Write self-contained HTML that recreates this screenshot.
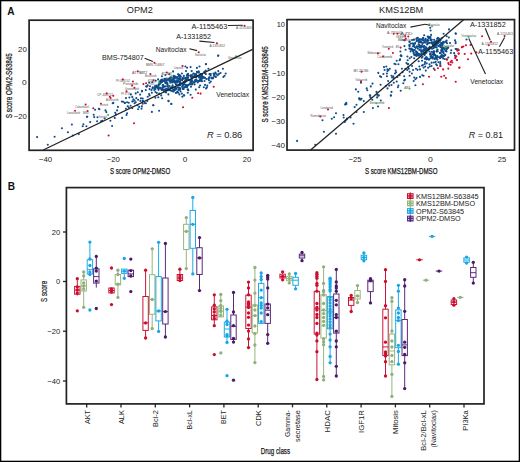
<!DOCTYPE html>
<html><head><meta charset="utf-8"><style>
html,body{margin:0;padding:0;background:#fff;}
svg{display:block;}
text{font-family:"Liberation Sans", sans-serif;}
</style></head><body>
<svg width="520" height="462" viewBox="0 0 520 462">
<rect x="0" y="0" width="520" height="462" fill="#fff"/>
<text x="7.20" y="15.00" font-size="10.6" textLength="7.30" lengthAdjust="spacingAndGlyphs" font-weight="bold" fill="#111">A</text>
<text x="139.80" y="13.40" font-size="9.3" text-anchor="middle" textLength="26.00" lengthAdjust="spacingAndGlyphs" fill="#222">OPM2</text>
<rect x="29.10" y="20.20" width="224.00" height="130.10" stroke="#222" stroke-width="1.7" fill="none"/>
<text x="45.50" y="161.80" font-size="7.6" text-anchor="middle" textLength="13.40" lengthAdjust="spacingAndGlyphs" fill="#222">−40</text>
<text x="113.30" y="161.80" font-size="7.6" text-anchor="middle" textLength="13.30" lengthAdjust="spacingAndGlyphs" fill="#222">−20</text>
<text x="185.00" y="161.80" font-size="7.6" text-anchor="middle" textLength="4.60" lengthAdjust="spacingAndGlyphs" fill="#222">0</text>
<text x="246.90" y="161.80" font-size="7.6" text-anchor="middle" textLength="8.40" lengthAdjust="spacingAndGlyphs" fill="#222">20</text>
<text x="26.80" y="51.80" font-size="7.6" text-anchor="end" textLength="8.80" lengthAdjust="spacingAndGlyphs" fill="#222">20</text>
<text x="26.80" y="84.90" font-size="7.6" text-anchor="end" textLength="4.70" lengthAdjust="spacingAndGlyphs" fill="#222">0</text>
<text x="26.80" y="118.50" font-size="7.6" text-anchor="end" textLength="13.10" lengthAdjust="spacingAndGlyphs" fill="#222">−20</text>
<text x="140.10" y="174.20" font-size="8.8" text-anchor="middle" textLength="60.20" lengthAdjust="spacingAndGlyphs" fill="#1a1a1a" stroke="#1a1a1a" stroke-width="0.25">S score OPM2-DMSO</text>
<text x="12.00" y="85.70" font-size="8.4" text-anchor="middle" textLength="65.00" lengthAdjust="spacingAndGlyphs" transform="rotate(-90 12.00 85.70)" fill="#1a1a1a" stroke="#1a1a1a" stroke-width="0.25">S score OPM2-S63845</text>
<text x="401.20" y="13.40" font-size="9.3" text-anchor="middle" textLength="44.30" lengthAdjust="spacingAndGlyphs" fill="#222">KMS12BM</text>
<rect x="287.00" y="19.60" width="227.50" height="130.50" stroke="#222" stroke-width="1.7" fill="none"/>
<text x="355.00" y="161.90" font-size="7.6" text-anchor="middle" textLength="13.00" lengthAdjust="spacingAndGlyphs" fill="#222">−25</text>
<text x="430.50" y="161.90" font-size="7.6" text-anchor="middle" textLength="4.80" lengthAdjust="spacingAndGlyphs" fill="#222">0</text>
<text x="502.00" y="161.90" font-size="7.6" text-anchor="middle" textLength="8.40" lengthAdjust="spacingAndGlyphs" fill="#222">25</text>
<text x="285.00" y="27.00" font-size="7.6" text-anchor="end" textLength="8.30" lengthAdjust="spacingAndGlyphs" fill="#222">10</text>
<text x="285.00" y="51.10" font-size="7.6" text-anchor="end" textLength="4.90" lengthAdjust="spacingAndGlyphs" fill="#222">0</text>
<text x="285.00" y="75.50" font-size="7.6" text-anchor="end" textLength="13.10" lengthAdjust="spacingAndGlyphs" fill="#222">−10</text>
<text x="285.00" y="99.80" font-size="7.6" text-anchor="end" textLength="13.40" lengthAdjust="spacingAndGlyphs" fill="#222">−20</text>
<text x="285.00" y="124.10" font-size="7.6" text-anchor="end" textLength="13.70" lengthAdjust="spacingAndGlyphs" fill="#222">−30</text>
<text x="285.00" y="148.00" font-size="7.6" text-anchor="end" textLength="13.70" lengthAdjust="spacingAndGlyphs" fill="#222">−40</text>
<text x="401.20" y="173.80" font-size="8.6" text-anchor="middle" textLength="72.50" lengthAdjust="spacingAndGlyphs" fill="#1a1a1a" stroke="#1a1a1a" stroke-width="0.25">S score KMS12BM-DMSO</text>
<text x="268.00" y="84.40" font-size="8.6" text-anchor="middle" textLength="76.30" lengthAdjust="spacingAndGlyphs" transform="rotate(-90 268.00 84.40)" fill="#1a1a1a" stroke="#1a1a1a" stroke-width="0.25">S score KMS12BM-S63845</text>
<text x="206.90" y="137.50" font-size="9.4" fill="#222" textLength="35.40" lengthAdjust="spacingAndGlyphs"><tspan font-style="italic">R</tspan> = 0.86</text>
<text x="468.80" y="137.90" font-size="9.4" fill="#222" textLength="34.10" lengthAdjust="spacingAndGlyphs"><tspan font-style="italic">R</tspan> = 0.81</text>
<text x="7.80" y="189.60" font-size="10.6" textLength="7.30" lengthAdjust="spacingAndGlyphs" font-weight="bold" fill="#111">B</text>
<rect x="66.40" y="187.60" width="417.60" height="216.30" stroke="#222" stroke-width="1.7" fill="none"/>
<line x1="63.00" y1="232.00" x2="66.40" y2="232.00" stroke="#222" stroke-width="1.3"/>
<text x="60.20" y="234.60" font-size="7.6" text-anchor="end" fill="#222">20</text>
<line x1="63.00" y1="281.50" x2="66.40" y2="281.50" stroke="#222" stroke-width="1.3"/>
<text x="60.20" y="284.10" font-size="7.6" text-anchor="end" fill="#222">0</text>
<line x1="63.00" y1="331.20" x2="66.40" y2="331.20" stroke="#222" stroke-width="1.3"/>
<text x="60.20" y="333.80" font-size="7.6" text-anchor="end" fill="#222">−20</text>
<line x1="63.00" y1="381.00" x2="66.40" y2="381.00" stroke="#222" stroke-width="1.3"/>
<text x="60.20" y="383.60" font-size="7.6" text-anchor="end" fill="#222">−40</text>
<text x="47.10" y="291.40" font-size="9.0" text-anchor="middle" textLength="21.00" lengthAdjust="spacingAndGlyphs" transform="rotate(-90 47.10 291.40)" fill="#1a1a1a" stroke="#1a1a1a" stroke-width="0.2">S score</text>
<line x1="86.70" y1="403.90" x2="86.70" y2="407.40" stroke="#222" stroke-width="1.3"/>
<text x="89.60" y="410.20" font-size="8.1" text-anchor="end" textLength="13.90" lengthAdjust="spacingAndGlyphs" transform="rotate(-90 89.60 410.20)" fill="#1a1a1a">AKT</text>
<line x1="121.00" y1="403.90" x2="121.00" y2="407.40" stroke="#222" stroke-width="1.3"/>
<text x="123.70" y="410.20" font-size="8.1" text-anchor="end" textLength="13.90" lengthAdjust="spacingAndGlyphs" transform="rotate(-90 123.70 410.20)" fill="#1a1a1a">ALK</text>
<line x1="155.30" y1="403.90" x2="155.30" y2="407.40" stroke="#222" stroke-width="1.3"/>
<text x="157.80" y="410.20" font-size="8.1" text-anchor="end" textLength="16.75" lengthAdjust="spacingAndGlyphs" transform="rotate(-90 157.80 410.20)" fill="#1a1a1a">Bcl-2</text>
<line x1="189.60" y1="403.90" x2="189.60" y2="407.40" stroke="#222" stroke-width="1.3"/>
<text x="192.10" y="410.20" font-size="8.1" text-anchor="end" textLength="19.25" lengthAdjust="spacingAndGlyphs" transform="rotate(-90 192.10 410.20)" fill="#1a1a1a">Bcl-xL</text>
<line x1="223.90" y1="403.90" x2="223.90" y2="407.40" stroke="#222" stroke-width="1.3"/>
<text x="226.40" y="410.20" font-size="8.1" text-anchor="end" textLength="13.75" lengthAdjust="spacingAndGlyphs" transform="rotate(-90 226.40 410.20)" fill="#1a1a1a">BET</text>
<line x1="258.20" y1="403.90" x2="258.20" y2="407.40" stroke="#222" stroke-width="1.3"/>
<text x="261.00" y="410.20" font-size="8.1" text-anchor="end" textLength="15.75" lengthAdjust="spacingAndGlyphs" transform="rotate(-90 261.00 410.20)" fill="#1a1a1a">CDK</text>
<line x1="292.50" y1="403.90" x2="292.50" y2="407.40" stroke="#222" stroke-width="1.3"/>
<text x="290.50" y="410.20" font-size="8.1" text-anchor="end" textLength="26.80" lengthAdjust="spacingAndGlyphs" transform="rotate(-90 290.50 410.20)" fill="#1a1a1a">Gamma-</text>
<text x="300.30" y="410.20" font-size="8.1" text-anchor="end" textLength="31.80" lengthAdjust="spacingAndGlyphs" transform="rotate(-90 300.30 410.20)" fill="#1a1a1a">secretase</text>
<line x1="326.80" y1="403.90" x2="326.80" y2="407.40" stroke="#222" stroke-width="1.3"/>
<text x="329.80" y="410.20" font-size="8.1" text-anchor="end" textLength="22.20" lengthAdjust="spacingAndGlyphs" transform="rotate(-90 329.80 410.20)" fill="#1a1a1a">HDAC</text>
<line x1="361.10" y1="403.90" x2="361.10" y2="407.40" stroke="#222" stroke-width="1.3"/>
<text x="363.60" y="410.20" font-size="8.1" text-anchor="end" textLength="22.80" lengthAdjust="spacingAndGlyphs" transform="rotate(-90 363.60 410.20)" fill="#1a1a1a">IGF1R</text>
<line x1="395.40" y1="403.90" x2="395.40" y2="407.40" stroke="#222" stroke-width="1.3"/>
<text x="398.00" y="410.20" font-size="8.1" text-anchor="end" textLength="23.70" lengthAdjust="spacingAndGlyphs" transform="rotate(-90 398.00 410.20)" fill="#1a1a1a">Mitosis</text>
<line x1="429.70" y1="403.90" x2="429.70" y2="407.40" stroke="#222" stroke-width="1.3"/>
<text x="425.80" y="410.20" font-size="8.1" text-anchor="end" textLength="40.50" lengthAdjust="spacingAndGlyphs" transform="rotate(-90 425.80 410.20)" fill="#1a1a1a">Bcl-2/Bcl-xL</text>
<text x="435.60" y="410.20" font-size="8.1" text-anchor="end" textLength="37.40" lengthAdjust="spacingAndGlyphs" transform="rotate(-90 435.60 410.20)" fill="#1a1a1a">(Navitoclax)</text>
<line x1="464.00" y1="403.90" x2="464.00" y2="407.40" stroke="#222" stroke-width="1.3"/>
<text x="467.60" y="410.20" font-size="8.1" text-anchor="end" textLength="20.50" lengthAdjust="spacingAndGlyphs" transform="rotate(-90 467.60 410.20)" fill="#1a1a1a">PI3Ka</text>
<text x="275.40" y="454.30" font-size="8.4" text-anchor="middle" textLength="29.20" lengthAdjust="spacingAndGlyphs" fill="#1a1a1a" stroke="#1a1a1a" stroke-width="0.25">Drug class</text>
<rect x="407.0" y="193.20" width="6.6" height="5.8" fill="#c8102e"/>
<line x1="410.30" y1="192.40" x2="410.30" y2="199.60" stroke="#c8102e" stroke-width="1.0"/>
<rect x="408.00" y="194.15" width="1.2" height="1.1" fill="#fff" opacity="0.85"/>
<rect x="408.00" y="196.55" width="1.2" height="1.1" fill="#fff" opacity="0.85"/>
<rect x="411.40" y="194.15" width="1.2" height="1.1" fill="#fff" opacity="0.85"/>
<rect x="411.40" y="196.55" width="1.2" height="1.1" fill="#fff" opacity="0.85"/>
<text x="416.00" y="198.60" font-size="7.1" textLength="62.60" lengthAdjust="spacingAndGlyphs" fill="#1a1a1a">KMS12BM-S63845</text>
<rect x="407.0" y="200.50" width="6.6" height="5.8" fill="#8fb87a"/>
<line x1="410.30" y1="199.70" x2="410.30" y2="206.90" stroke="#8fb87a" stroke-width="1.0"/>
<rect x="408.00" y="201.45" width="1.2" height="1.1" fill="#fff" opacity="0.85"/>
<rect x="408.00" y="203.85" width="1.2" height="1.1" fill="#fff" opacity="0.85"/>
<rect x="411.40" y="201.45" width="1.2" height="1.1" fill="#fff" opacity="0.85"/>
<rect x="411.40" y="203.85" width="1.2" height="1.1" fill="#fff" opacity="0.85"/>
<text x="416.00" y="205.90" font-size="7.1" textLength="59.10" lengthAdjust="spacingAndGlyphs" fill="#1a1a1a">KMS12BM-DMSO</text>
<rect x="407.0" y="208.10" width="6.6" height="5.8" fill="#1ca7e0"/>
<line x1="410.30" y1="207.30" x2="410.30" y2="214.50" stroke="#1ca7e0" stroke-width="1.0"/>
<rect x="408.00" y="209.05" width="1.2" height="1.1" fill="#fff" opacity="0.85"/>
<rect x="408.00" y="211.45" width="1.2" height="1.1" fill="#fff" opacity="0.85"/>
<rect x="411.40" y="209.05" width="1.2" height="1.1" fill="#fff" opacity="0.85"/>
<rect x="411.40" y="211.45" width="1.2" height="1.1" fill="#fff" opacity="0.85"/>
<text x="416.00" y="213.50" font-size="7.1" textLength="48.10" lengthAdjust="spacingAndGlyphs" fill="#1a1a1a">OPM2-S63845</text>
<rect x="407.0" y="215.70" width="6.6" height="5.8" fill="#5a2a82"/>
<line x1="410.30" y1="214.90" x2="410.30" y2="222.10" stroke="#5a2a82" stroke-width="1.0"/>
<rect x="408.00" y="216.65" width="1.2" height="1.1" fill="#fff" opacity="0.85"/>
<rect x="408.00" y="219.05" width="1.2" height="1.1" fill="#fff" opacity="0.85"/>
<rect x="411.40" y="216.65" width="1.2" height="1.1" fill="#fff" opacity="0.85"/>
<rect x="411.40" y="219.05" width="1.2" height="1.1" fill="#fff" opacity="0.85"/>
<text x="416.00" y="221.10" font-size="7.1" textLength="44.60" lengthAdjust="spacingAndGlyphs" fill="#1a1a1a">OPM2-DMSO</text>
<g>
<circle cx="196.87" cy="71.88" r="1.05" fill="#0f4c8a"/>
<circle cx="188.58" cy="79.51" r="1.05" fill="#0f4c8a"/>
<circle cx="180.57" cy="91.50" r="1.05" fill="#0f4c8a"/>
<circle cx="191.55" cy="80.31" r="1.05" fill="#0f4c8a"/>
<circle cx="211.81" cy="77.53" r="1.05" fill="#0f4c8a"/>
<circle cx="172.21" cy="91.22" r="1.05" fill="#0f4c8a"/>
<circle cx="163.01" cy="85.12" r="1.05" fill="#0f4c8a"/>
<circle cx="196.00" cy="79.68" r="1.05" fill="#0f4c8a"/>
<circle cx="198.99" cy="81.12" r="1.05" fill="#0f4c8a"/>
<circle cx="172.62" cy="85.22" r="1.05" fill="#0f4c8a"/>
<circle cx="182.63" cy="77.79" r="1.05" fill="#0f4c8a"/>
<circle cx="167.57" cy="84.94" r="1.05" fill="#0f4c8a"/>
<circle cx="187.81" cy="92.75" r="1.05" fill="#0f4c8a"/>
<circle cx="202.52" cy="77.49" r="1.05" fill="#0f4c8a"/>
<circle cx="220.57" cy="73.07" r="1.05" fill="#0f4c8a"/>
<circle cx="180.10" cy="89.69" r="1.05" fill="#0f4c8a"/>
<circle cx="160.94" cy="82.71" r="1.05" fill="#0f4c8a"/>
<circle cx="152.82" cy="87.37" r="1.05" fill="#0f4c8a"/>
<circle cx="205.05" cy="84.90" r="1.05" fill="#0f4c8a"/>
<circle cx="213.03" cy="78.16" r="1.05" fill="#0f4c8a"/>
<circle cx="200.06" cy="85.45" r="1.05" fill="#0f4c8a"/>
<circle cx="191.75" cy="81.86" r="1.05" fill="#0f4c8a"/>
<circle cx="184.14" cy="87.27" r="1.05" fill="#0f4c8a"/>
<circle cx="154.37" cy="88.24" r="1.05" fill="#0f4c8a"/>
<circle cx="209.18" cy="77.40" r="1.05" fill="#0f4c8a"/>
<circle cx="177.78" cy="87.38" r="1.05" fill="#0f4c8a"/>
<circle cx="154.24" cy="89.97" r="1.05" fill="#0f4c8a"/>
<circle cx="178.15" cy="92.66" r="1.05" fill="#0f4c8a"/>
<circle cx="170.05" cy="80.80" r="1.05" fill="#0f4c8a"/>
<circle cx="175.83" cy="92.99" r="1.05" fill="#0f4c8a"/>
<circle cx="218.96" cy="73.92" r="1.05" fill="#0f4c8a"/>
<circle cx="166.80" cy="82.61" r="1.05" fill="#0f4c8a"/>
<circle cx="192.42" cy="76.83" r="1.05" fill="#0f4c8a"/>
<circle cx="176.59" cy="84.72" r="1.05" fill="#0f4c8a"/>
<circle cx="187.12" cy="86.06" r="1.05" fill="#0f4c8a"/>
<circle cx="198.69" cy="71.40" r="1.05" fill="#0f4c8a"/>
<circle cx="178.25" cy="80.37" r="1.05" fill="#0f4c8a"/>
<circle cx="157.45" cy="86.49" r="1.05" fill="#0f4c8a"/>
<circle cx="151.84" cy="92.73" r="1.05" fill="#0f4c8a"/>
<circle cx="194.21" cy="73.86" r="1.05" fill="#0f4c8a"/>
<circle cx="168.16" cy="79.03" r="1.05" fill="#0f4c8a"/>
<circle cx="183.55" cy="82.58" r="1.05" fill="#0f4c8a"/>
<circle cx="174.67" cy="76.88" r="1.05" fill="#0f4c8a"/>
<circle cx="209.68" cy="74.20" r="1.05" fill="#0f4c8a"/>
<circle cx="188.03" cy="73.81" r="1.05" fill="#0f4c8a"/>
<circle cx="168.80" cy="79.53" r="1.05" fill="#0f4c8a"/>
<circle cx="162.03" cy="90.07" r="1.05" fill="#0f4c8a"/>
<circle cx="188.35" cy="90.26" r="1.05" fill="#0f4c8a"/>
<circle cx="173.74" cy="75.80" r="1.05" fill="#0f4c8a"/>
<circle cx="166.33" cy="83.46" r="1.05" fill="#0f4c8a"/>
<circle cx="168.66" cy="88.01" r="1.05" fill="#0f4c8a"/>
<circle cx="201.80" cy="78.93" r="1.05" fill="#0f4c8a"/>
<circle cx="196.18" cy="81.11" r="1.05" fill="#0f4c8a"/>
<circle cx="187.00" cy="87.19" r="1.05" fill="#0f4c8a"/>
<circle cx="159.15" cy="84.55" r="1.05" fill="#0f4c8a"/>
<circle cx="191.76" cy="81.08" r="1.05" fill="#0f4c8a"/>
<circle cx="163.75" cy="86.99" r="1.05" fill="#0f4c8a"/>
<circle cx="171.29" cy="87.22" r="1.05" fill="#0f4c8a"/>
<circle cx="174.67" cy="89.99" r="1.05" fill="#0f4c8a"/>
<circle cx="190.52" cy="75.23" r="1.05" fill="#0f4c8a"/>
<circle cx="162.16" cy="87.70" r="1.05" fill="#0f4c8a"/>
<circle cx="172.17" cy="82.42" r="1.05" fill="#0f4c8a"/>
<circle cx="176.26" cy="88.56" r="1.05" fill="#0f4c8a"/>
<circle cx="195.48" cy="76.01" r="1.05" fill="#0f4c8a"/>
<circle cx="166.79" cy="83.14" r="1.05" fill="#0f4c8a"/>
<circle cx="167.71" cy="79.96" r="1.05" fill="#0f4c8a"/>
<circle cx="161.42" cy="89.29" r="1.05" fill="#0f4c8a"/>
<circle cx="172.34" cy="80.71" r="1.05" fill="#0f4c8a"/>
<circle cx="175.61" cy="89.44" r="1.05" fill="#0f4c8a"/>
<circle cx="179.58" cy="82.10" r="1.05" fill="#0f4c8a"/>
<circle cx="155.19" cy="87.18" r="1.05" fill="#0f4c8a"/>
<circle cx="163.44" cy="81.00" r="1.05" fill="#0f4c8a"/>
<circle cx="190.53" cy="82.57" r="1.05" fill="#0f4c8a"/>
<circle cx="170.97" cy="81.85" r="1.05" fill="#0f4c8a"/>
<circle cx="182.22" cy="86.90" r="1.05" fill="#0f4c8a"/>
<circle cx="160.20" cy="82.65" r="1.05" fill="#0f4c8a"/>
<circle cx="192.84" cy="81.65" r="1.05" fill="#0f4c8a"/>
<circle cx="182.52" cy="86.44" r="1.05" fill="#0f4c8a"/>
<circle cx="199.71" cy="80.42" r="1.05" fill="#0f4c8a"/>
<circle cx="185.01" cy="81.61" r="1.05" fill="#0f4c8a"/>
<circle cx="180.10" cy="85.16" r="1.05" fill="#0f4c8a"/>
<circle cx="177.16" cy="82.13" r="1.05" fill="#0f4c8a"/>
<circle cx="178.42" cy="89.89" r="1.05" fill="#0f4c8a"/>
<circle cx="201.17" cy="76.93" r="1.05" fill="#0f4c8a"/>
<circle cx="196.16" cy="74.61" r="1.05" fill="#0f4c8a"/>
<circle cx="160.96" cy="80.40" r="1.05" fill="#0f4c8a"/>
<circle cx="158.58" cy="84.72" r="1.05" fill="#0f4c8a"/>
<circle cx="162.57" cy="85.61" r="1.05" fill="#0f4c8a"/>
<circle cx="187.35" cy="74.72" r="1.05" fill="#0f4c8a"/>
<circle cx="165.76" cy="90.10" r="1.05" fill="#0f4c8a"/>
<circle cx="174.51" cy="81.26" r="1.05" fill="#0f4c8a"/>
<circle cx="162.91" cy="80.20" r="1.05" fill="#0f4c8a"/>
<circle cx="180.26" cy="78.44" r="1.05" fill="#0f4c8a"/>
<circle cx="182.15" cy="80.37" r="1.05" fill="#0f4c8a"/>
<circle cx="185.57" cy="81.73" r="1.05" fill="#0f4c8a"/>
<circle cx="156.94" cy="86.80" r="1.05" fill="#0f4c8a"/>
<circle cx="175.69" cy="89.32" r="1.05" fill="#0f4c8a"/>
<circle cx="195.13" cy="76.91" r="1.05" fill="#0f4c8a"/>
<circle cx="162.32" cy="89.46" r="1.05" fill="#0f4c8a"/>
<circle cx="182.96" cy="85.31" r="1.05" fill="#0f4c8a"/>
<circle cx="188.72" cy="80.08" r="1.05" fill="#0f4c8a"/>
<circle cx="158.55" cy="89.83" r="1.05" fill="#0f4c8a"/>
<circle cx="186.09" cy="87.23" r="1.05" fill="#0f4c8a"/>
<circle cx="159.10" cy="88.27" r="1.05" fill="#0f4c8a"/>
<circle cx="158.26" cy="88.39" r="1.05" fill="#0f4c8a"/>
<circle cx="177.23" cy="78.44" r="1.05" fill="#0f4c8a"/>
<circle cx="180.82" cy="76.53" r="1.05" fill="#0f4c8a"/>
<circle cx="170.29" cy="77.80" r="1.05" fill="#0f4c8a"/>
<circle cx="192.22" cy="77.51" r="1.05" fill="#0f4c8a"/>
<circle cx="179.50" cy="75.38" r="1.05" fill="#0f4c8a"/>
<circle cx="190.92" cy="82.47" r="1.05" fill="#0f4c8a"/>
<circle cx="164.28" cy="81.02" r="1.05" fill="#0f4c8a"/>
<circle cx="200.80" cy="74.02" r="1.05" fill="#0f4c8a"/>
<circle cx="195.13" cy="80.21" r="1.05" fill="#0f4c8a"/>
<circle cx="179.26" cy="87.86" r="1.05" fill="#0f4c8a"/>
<circle cx="174.26" cy="81.63" r="1.05" fill="#0f4c8a"/>
<circle cx="171.79" cy="87.81" r="1.05" fill="#0f4c8a"/>
<circle cx="189.63" cy="84.08" r="1.05" fill="#0f4c8a"/>
<circle cx="174.83" cy="78.60" r="1.05" fill="#0f4c8a"/>
<circle cx="158.47" cy="86.08" r="1.05" fill="#0f4c8a"/>
<circle cx="159.14" cy="87.98" r="1.05" fill="#0f4c8a"/>
<circle cx="169.36" cy="80.73" r="1.05" fill="#0f4c8a"/>
<circle cx="162.72" cy="80.47" r="1.05" fill="#0f4c8a"/>
<circle cx="167.90" cy="90.27" r="1.05" fill="#0f4c8a"/>
<circle cx="166.98" cy="90.35" r="1.05" fill="#0f4c8a"/>
<circle cx="170.17" cy="78.78" r="1.05" fill="#0f4c8a"/>
<circle cx="178.26" cy="81.55" r="1.05" fill="#0f4c8a"/>
<circle cx="164.85" cy="81.59" r="1.05" fill="#0f4c8a"/>
<circle cx="183.69" cy="82.05" r="1.05" fill="#0f4c8a"/>
<circle cx="191.78" cy="84.49" r="1.05" fill="#0f4c8a"/>
<circle cx="174.09" cy="78.20" r="1.05" fill="#0f4c8a"/>
<circle cx="190.48" cy="84.22" r="1.05" fill="#0f4c8a"/>
<circle cx="157.15" cy="87.87" r="1.05" fill="#0f4c8a"/>
<circle cx="161.83" cy="81.95" r="1.05" fill="#0f4c8a"/>
<circle cx="179.71" cy="87.86" r="1.05" fill="#0f4c8a"/>
<circle cx="183.62" cy="88.96" r="1.05" fill="#0f4c8a"/>
<circle cx="188.46" cy="85.17" r="1.05" fill="#0f4c8a"/>
<circle cx="160.14" cy="87.88" r="1.05" fill="#0f4c8a"/>
<circle cx="182.37" cy="83.93" r="1.05" fill="#0f4c8a"/>
<circle cx="185.69" cy="84.93" r="1.05" fill="#0f4c8a"/>
<circle cx="179.65" cy="82.17" r="1.05" fill="#0f4c8a"/>
<circle cx="191.10" cy="76.79" r="1.05" fill="#0f4c8a"/>
<circle cx="190.74" cy="75.90" r="1.05" fill="#0f4c8a"/>
<circle cx="179.20" cy="79.27" r="1.05" fill="#0f4c8a"/>
<circle cx="178.47" cy="84.99" r="1.05" fill="#0f4c8a"/>
<circle cx="192.58" cy="83.72" r="1.05" fill="#0f4c8a"/>
<circle cx="191.42" cy="77.78" r="1.05" fill="#0f4c8a"/>
<circle cx="187.93" cy="85.15" r="1.05" fill="#0f4c8a"/>
<circle cx="188.11" cy="77.53" r="1.05" fill="#0f4c8a"/>
<circle cx="180.31" cy="80.83" r="1.05" fill="#0f4c8a"/>
<circle cx="198.79" cy="75.79" r="1.05" fill="#0f4c8a"/>
<circle cx="177.02" cy="77.10" r="1.05" fill="#0f4c8a"/>
<circle cx="165.28" cy="89.97" r="1.05" fill="#0f4c8a"/>
<circle cx="165.32" cy="83.05" r="1.05" fill="#0f4c8a"/>
<circle cx="161.95" cy="81.96" r="1.05" fill="#0f4c8a"/>
<circle cx="201.68" cy="74.52" r="1.05" fill="#0f4c8a"/>
<circle cx="195.19" cy="81.67" r="1.05" fill="#0f4c8a"/>
<circle cx="166.34" cy="89.06" r="1.05" fill="#0f4c8a"/>
<circle cx="177.09" cy="77.74" r="1.05" fill="#0f4c8a"/>
<circle cx="170.49" cy="87.96" r="1.05" fill="#0f4c8a"/>
<circle cx="155.09" cy="86.26" r="1.05" fill="#0f4c8a"/>
<circle cx="196.12" cy="74.28" r="1.05" fill="#0f4c8a"/>
<circle cx="199.18" cy="77.51" r="1.05" fill="#0f4c8a"/>
<circle cx="173.24" cy="79.47" r="1.05" fill="#0f4c8a"/>
<circle cx="172.67" cy="80.13" r="1.05" fill="#0f4c8a"/>
<circle cx="159.98" cy="87.86" r="1.05" fill="#0f4c8a"/>
<circle cx="169.00" cy="89.78" r="1.05" fill="#0f4c8a"/>
<circle cx="180.04" cy="75.61" r="1.05" fill="#0f4c8a"/>
<circle cx="173.29" cy="90.17" r="1.05" fill="#0f4c8a"/>
<circle cx="190.89" cy="80.57" r="1.05" fill="#0f4c8a"/>
<circle cx="191.88" cy="84.25" r="1.05" fill="#0f4c8a"/>
<circle cx="200.41" cy="74.42" r="1.05" fill="#0f4c8a"/>
<circle cx="178.14" cy="78.53" r="1.05" fill="#0f4c8a"/>
<circle cx="169.59" cy="86.04" r="1.05" fill="#0f4c8a"/>
<circle cx="202.84" cy="76.94" r="1.05" fill="#0f4c8a"/>
<circle cx="187.14" cy="77.72" r="1.05" fill="#0f4c8a"/>
<circle cx="182.31" cy="79.49" r="1.05" fill="#0f4c8a"/>
<circle cx="165.19" cy="89.21" r="1.05" fill="#0f4c8a"/>
<circle cx="179.36" cy="76.18" r="1.05" fill="#0f4c8a"/>
<circle cx="182.91" cy="88.86" r="1.05" fill="#0f4c8a"/>
<circle cx="191.73" cy="79.84" r="1.05" fill="#0f4c8a"/>
<circle cx="175.28" cy="81.96" r="1.05" fill="#0f4c8a"/>
<circle cx="173.47" cy="78.43" r="1.05" fill="#0f4c8a"/>
<circle cx="179.67" cy="83.96" r="1.05" fill="#0f4c8a"/>
<circle cx="197.28" cy="76.10" r="1.05" fill="#0f4c8a"/>
<circle cx="174.59" cy="80.47" r="1.05" fill="#0f4c8a"/>
<circle cx="197.77" cy="72.41" r="1.05" fill="#0f4c8a"/>
<circle cx="156.58" cy="85.48" r="1.05" fill="#0f4c8a"/>
<circle cx="198.89" cy="80.99" r="1.05" fill="#0f4c8a"/>
<circle cx="174.18" cy="89.61" r="1.05" fill="#0f4c8a"/>
<circle cx="202.64" cy="76.72" r="1.05" fill="#0f4c8a"/>
<circle cx="180.60" cy="84.96" r="1.05" fill="#0f4c8a"/>
<circle cx="186.72" cy="86.53" r="1.05" fill="#0f4c8a"/>
<circle cx="177.41" cy="82.48" r="1.05" fill="#0f4c8a"/>
<circle cx="156.94" cy="86.86" r="1.05" fill="#0f4c8a"/>
<circle cx="166.40" cy="89.48" r="1.05" fill="#0f4c8a"/>
<circle cx="186.63" cy="77.77" r="1.05" fill="#0f4c8a"/>
<circle cx="186.18" cy="85.27" r="1.05" fill="#0f4c8a"/>
<circle cx="180.70" cy="83.07" r="1.05" fill="#0f4c8a"/>
<circle cx="174.02" cy="76.25" r="1.05" fill="#0f4c8a"/>
<circle cx="169.77" cy="80.75" r="1.05" fill="#0f4c8a"/>
<circle cx="198.30" cy="81.03" r="1.05" fill="#0f4c8a"/>
<circle cx="179.42" cy="84.81" r="1.05" fill="#0f4c8a"/>
<circle cx="175.58" cy="76.89" r="1.05" fill="#0f4c8a"/>
<circle cx="171.56" cy="79.99" r="1.05" fill="#0f4c8a"/>
<circle cx="188.45" cy="75.76" r="1.05" fill="#0f4c8a"/>
<circle cx="179.74" cy="75.90" r="1.05" fill="#0f4c8a"/>
<circle cx="202.52" cy="77.92" r="1.05" fill="#0f4c8a"/>
<circle cx="195.18" cy="76.39" r="1.05" fill="#0f4c8a"/>
<circle cx="165.85" cy="86.45" r="1.05" fill="#0f4c8a"/>
<circle cx="169.45" cy="90.09" r="1.05" fill="#0f4c8a"/>
<circle cx="179.29" cy="75.56" r="1.05" fill="#0f4c8a"/>
<circle cx="165.94" cy="79.92" r="1.05" fill="#0f4c8a"/>
<circle cx="162.17" cy="79.48" r="1.05" fill="#0f4c8a"/>
<circle cx="165.43" cy="90.51" r="1.05" fill="#0f4c8a"/>
<circle cx="200.65" cy="78.26" r="1.05" fill="#0f4c8a"/>
<circle cx="164.09" cy="89.78" r="1.05" fill="#0f4c8a"/>
<circle cx="187.56" cy="79.19" r="1.05" fill="#0f4c8a"/>
<circle cx="173.32" cy="78.30" r="1.05" fill="#0f4c8a"/>
<circle cx="168.71" cy="78.68" r="1.05" fill="#0f4c8a"/>
<circle cx="201.82" cy="74.35" r="1.05" fill="#0f4c8a"/>
<circle cx="202.25" cy="75.94" r="1.05" fill="#0f4c8a"/>
<circle cx="172.47" cy="87.61" r="1.05" fill="#0f4c8a"/>
<circle cx="195.28" cy="80.22" r="1.05" fill="#0f4c8a"/>
<circle cx="173.26" cy="89.47" r="1.05" fill="#0f4c8a"/>
<circle cx="164.46" cy="78.92" r="1.05" fill="#0f4c8a"/>
<circle cx="198.95" cy="72.58" r="1.05" fill="#0f4c8a"/>
<circle cx="175.13" cy="87.42" r="1.05" fill="#0f4c8a"/>
<circle cx="200.08" cy="76.88" r="1.05" fill="#0f4c8a"/>
<circle cx="171.61" cy="77.17" r="1.05" fill="#0f4c8a"/>
<circle cx="167.85" cy="85.62" r="1.05" fill="#0f4c8a"/>
<circle cx="170.51" cy="77.24" r="1.05" fill="#0f4c8a"/>
<circle cx="155.18" cy="86.36" r="1.05" fill="#0f4c8a"/>
<circle cx="166.46" cy="81.03" r="1.05" fill="#0f4c8a"/>
<circle cx="173.94" cy="76.77" r="1.05" fill="#0f4c8a"/>
<circle cx="176.07" cy="81.38" r="1.05" fill="#0f4c8a"/>
<circle cx="200.48" cy="75.48" r="1.05" fill="#0f4c8a"/>
<circle cx="184.76" cy="78.23" r="1.05" fill="#0f4c8a"/>
<circle cx="170.66" cy="78.88" r="1.05" fill="#0f4c8a"/>
<circle cx="193.33" cy="73.50" r="1.05" fill="#0f4c8a"/>
<circle cx="164.67" cy="86.30" r="1.05" fill="#0f4c8a"/>
<circle cx="170.96" cy="90.62" r="1.05" fill="#0f4c8a"/>
<circle cx="159.72" cy="81.47" r="1.05" fill="#0f4c8a"/>
<circle cx="189.78" cy="80.49" r="1.05" fill="#0f4c8a"/>
<circle cx="166.48" cy="79.92" r="1.05" fill="#0f4c8a"/>
<circle cx="185.40" cy="84.81" r="1.05" fill="#0f4c8a"/>
<circle cx="187.56" cy="74.30" r="1.05" fill="#0f4c8a"/>
<circle cx="196.20" cy="77.58" r="1.05" fill="#0f4c8a"/>
<circle cx="182.78" cy="79.09" r="1.05" fill="#0f4c8a"/>
<circle cx="191.17" cy="75.78" r="1.05" fill="#0f4c8a"/>
<circle cx="162.51" cy="88.80" r="1.05" fill="#0f4c8a"/>
<circle cx="183.34" cy="78.20" r="1.05" fill="#0f4c8a"/>
<circle cx="179.86" cy="76.40" r="1.05" fill="#0f4c8a"/>
<circle cx="194.61" cy="84.41" r="1.05" fill="#0f4c8a"/>
<circle cx="178.26" cy="87.56" r="1.05" fill="#0f4c8a"/>
<circle cx="200.58" cy="79.07" r="1.05" fill="#0f4c8a"/>
<circle cx="197.44" cy="80.53" r="1.05" fill="#0f4c8a"/>
<circle cx="167.74" cy="86.78" r="1.05" fill="#0f4c8a"/>
<circle cx="201.34" cy="74.01" r="1.05" fill="#0f4c8a"/>
<circle cx="184.21" cy="83.78" r="1.05" fill="#0f4c8a"/>
<circle cx="165.66" cy="79.01" r="1.05" fill="#0f4c8a"/>
<circle cx="167.49" cy="83.39" r="1.05" fill="#0f4c8a"/>
<circle cx="186.93" cy="75.87" r="1.05" fill="#0f4c8a"/>
<circle cx="188.24" cy="75.52" r="1.05" fill="#0f4c8a"/>
<circle cx="193.97" cy="82.41" r="1.05" fill="#0f4c8a"/>
<circle cx="174.37" cy="82.45" r="1.05" fill="#0f4c8a"/>
<circle cx="163.02" cy="85.21" r="1.05" fill="#0f4c8a"/>
<circle cx="175.08" cy="77.38" r="1.05" fill="#0f4c8a"/>
<circle cx="170.07" cy="90.11" r="1.05" fill="#0f4c8a"/>
<circle cx="170.31" cy="82.76" r="1.05" fill="#0f4c8a"/>
<circle cx="172.50" cy="79.91" r="1.05" fill="#0f4c8a"/>
<circle cx="190.67" cy="75.87" r="1.05" fill="#0f4c8a"/>
<circle cx="155.29" cy="89.13" r="1.05" fill="#0f4c8a"/>
<circle cx="175.76" cy="87.59" r="1.05" fill="#0f4c8a"/>
<circle cx="174.90" cy="88.77" r="1.05" fill="#0f4c8a"/>
<circle cx="159.36" cy="83.82" r="1.05" fill="#0f4c8a"/>
<circle cx="173.17" cy="81.58" r="1.05" fill="#0f4c8a"/>
<circle cx="160.33" cy="81.32" r="1.05" fill="#0f4c8a"/>
<circle cx="200.38" cy="79.37" r="1.05" fill="#0f4c8a"/>
<circle cx="195.40" cy="75.05" r="1.05" fill="#0f4c8a"/>
<circle cx="193.51" cy="76.22" r="1.05" fill="#0f4c8a"/>
<circle cx="174.82" cy="88.08" r="1.05" fill="#0f4c8a"/>
<circle cx="195.63" cy="75.48" r="1.05" fill="#0f4c8a"/>
<circle cx="165.69" cy="79.60" r="1.05" fill="#0f4c8a"/>
<circle cx="180.38" cy="79.29" r="1.05" fill="#0f4c8a"/>
<circle cx="196.07" cy="74.24" r="1.05" fill="#0f4c8a"/>
<circle cx="184.38" cy="82.45" r="1.05" fill="#0f4c8a"/>
<circle cx="185.73" cy="77.82" r="1.05" fill="#0f4c8a"/>
<circle cx="175.58" cy="83.07" r="1.05" fill="#0f4c8a"/>
<circle cx="175.86" cy="84.52" r="1.05" fill="#0f4c8a"/>
<circle cx="176.89" cy="80.33" r="1.05" fill="#0f4c8a"/>
<circle cx="178.99" cy="76.47" r="1.05" fill="#0f4c8a"/>
<circle cx="161.29" cy="80.18" r="1.05" fill="#0f4c8a"/>
<circle cx="190.94" cy="86.78" r="1.05" fill="#0f4c8a"/>
<circle cx="179.69" cy="79.18" r="1.05" fill="#0f4c8a"/>
<circle cx="201.59" cy="74.59" r="1.05" fill="#0f4c8a"/>
<circle cx="164.49" cy="90.65" r="1.05" fill="#0f4c8a"/>
<circle cx="199.89" cy="75.14" r="1.05" fill="#0f4c8a"/>
<circle cx="192.05" cy="75.02" r="1.05" fill="#0f4c8a"/>
<circle cx="198.93" cy="77.22" r="1.05" fill="#0f4c8a"/>
<circle cx="194.97" cy="74.73" r="1.05" fill="#0f4c8a"/>
<circle cx="179.61" cy="89.48" r="1.05" fill="#0f4c8a"/>
<circle cx="179.79" cy="78.06" r="1.05" fill="#0f4c8a"/>
<circle cx="162.90" cy="89.79" r="1.05" fill="#0f4c8a"/>
<circle cx="163.27" cy="86.91" r="1.05" fill="#0f4c8a"/>
<circle cx="160.64" cy="82.08" r="1.05" fill="#0f4c8a"/>
<circle cx="186.18" cy="78.84" r="1.05" fill="#0f4c8a"/>
<circle cx="197.77" cy="82.55" r="1.05" fill="#0f4c8a"/>
<circle cx="183.42" cy="88.77" r="1.05" fill="#0f4c8a"/>
<circle cx="185.86" cy="79.49" r="1.05" fill="#0f4c8a"/>
<circle cx="194.09" cy="77.03" r="1.05" fill="#0f4c8a"/>
<circle cx="172.65" cy="86.53" r="1.05" fill="#0f4c8a"/>
<circle cx="195.17" cy="76.82" r="1.05" fill="#0f4c8a"/>
<circle cx="183.71" cy="84.61" r="1.05" fill="#0f4c8a"/>
<circle cx="185.19" cy="80.21" r="1.05" fill="#0f4c8a"/>
<circle cx="180.12" cy="89.02" r="1.05" fill="#0f4c8a"/>
<circle cx="165.99" cy="83.09" r="1.05" fill="#0f4c8a"/>
<circle cx="183.87" cy="75.88" r="1.05" fill="#0f4c8a"/>
<circle cx="185.57" cy="81.02" r="1.05" fill="#0f4c8a"/>
<circle cx="161.60" cy="89.80" r="1.05" fill="#0f4c8a"/>
<circle cx="159.69" cy="84.13" r="1.05" fill="#0f4c8a"/>
<circle cx="174.70" cy="77.02" r="1.05" fill="#0f4c8a"/>
<circle cx="182.55" cy="78.66" r="1.05" fill="#0f4c8a"/>
<circle cx="186.63" cy="80.43" r="1.05" fill="#0f4c8a"/>
<circle cx="167.18" cy="89.17" r="1.05" fill="#0f4c8a"/>
<circle cx="174.89" cy="76.52" r="1.05" fill="#0f4c8a"/>
<circle cx="157.86" cy="86.80" r="1.05" fill="#0f4c8a"/>
<circle cx="201.11" cy="74.70" r="1.05" fill="#0f4c8a"/>
<circle cx="203.79" cy="77.49" r="1.05" fill="#0f4c8a"/>
<circle cx="209.63" cy="77.88" r="1.05" fill="#0f4c8a"/>
<circle cx="215.45" cy="72.51" r="1.05" fill="#0f4c8a"/>
<circle cx="205.88" cy="73.95" r="1.05" fill="#0f4c8a"/>
<circle cx="200.92" cy="80.73" r="1.05" fill="#0f4c8a"/>
<circle cx="200.12" cy="80.21" r="1.05" fill="#0f4c8a"/>
<circle cx="214.16" cy="75.85" r="1.05" fill="#0f4c8a"/>
<circle cx="214.09" cy="75.70" r="1.05" fill="#0f4c8a"/>
<circle cx="204.29" cy="71.71" r="1.05" fill="#0f4c8a"/>
<circle cx="206.37" cy="79.12" r="1.05" fill="#0f4c8a"/>
<circle cx="213.52" cy="73.56" r="1.05" fill="#0f4c8a"/>
<circle cx="210.52" cy="75.51" r="1.05" fill="#0f4c8a"/>
<circle cx="214.98" cy="76.52" r="1.05" fill="#0f4c8a"/>
<circle cx="205.04" cy="77.88" r="1.05" fill="#0f4c8a"/>
<circle cx="204.95" cy="73.22" r="1.05" fill="#0f4c8a"/>
<circle cx="214.18" cy="74.26" r="1.05" fill="#0f4c8a"/>
<circle cx="216.72" cy="74.28" r="1.05" fill="#0f4c8a"/>
<circle cx="204.54" cy="80.94" r="1.05" fill="#0f4c8a"/>
<circle cx="211.98" cy="78.47" r="1.05" fill="#0f4c8a"/>
<circle cx="208.92" cy="80.16" r="1.05" fill="#0f4c8a"/>
<circle cx="208.31" cy="78.83" r="1.05" fill="#0f4c8a"/>
<circle cx="210.84" cy="74.04" r="1.05" fill="#0f4c8a"/>
<circle cx="204.03" cy="77.66" r="1.05" fill="#0f4c8a"/>
<circle cx="201.48" cy="80.97" r="1.05" fill="#0f4c8a"/>
<circle cx="202.03" cy="81.18" r="1.05" fill="#0f4c8a"/>
<circle cx="37.10" cy="137.10" r="1.05" fill="#0f4c8a"/>
<circle cx="47.80" cy="144.80" r="1.05" fill="#0f4c8a"/>
<circle cx="54.60" cy="136.70" r="1.05" fill="#0f4c8a"/>
<circle cx="61.90" cy="128.30" r="1.05" fill="#0f4c8a"/>
<circle cx="67.90" cy="132.30" r="1.05" fill="#0f4c8a"/>
<circle cx="71.90" cy="124.50" r="1.05" fill="#0f4c8a"/>
<circle cx="72.80" cy="135.50" r="1.05" fill="#0f4c8a"/>
<circle cx="78.80" cy="134.10" r="1.05" fill="#0f4c8a"/>
<circle cx="82.70" cy="126.30" r="1.05" fill="#0f4c8a"/>
<circle cx="83.40" cy="124.20" r="1.05" fill="#0f4c8a"/>
<circle cx="86.40" cy="126.30" r="1.05" fill="#0f4c8a"/>
<circle cx="87.00" cy="116.70" r="1.05" fill="#0f4c8a"/>
<circle cx="90.20" cy="122.10" r="1.05" fill="#0f4c8a"/>
<circle cx="87.30" cy="116.70" r="1.05" fill="#0f4c8a"/>
<circle cx="93.70" cy="114.80" r="1.05" fill="#0f4c8a"/>
<circle cx="94.20" cy="117.10" r="1.05" fill="#0f4c8a"/>
<circle cx="97.50" cy="117.30" r="1.05" fill="#0f4c8a"/>
<circle cx="97.10" cy="121.30" r="1.05" fill="#0f4c8a"/>
<circle cx="101.10" cy="121.30" r="1.05" fill="#0f4c8a"/>
<circle cx="102.30" cy="120.80" r="1.05" fill="#0f4c8a"/>
<circle cx="104.60" cy="118.50" r="1.05" fill="#0f4c8a"/>
<circle cx="105.50" cy="110.40" r="1.05" fill="#0f4c8a"/>
<circle cx="106.30" cy="112.10" r="1.05" fill="#0f4c8a"/>
<circle cx="99.40" cy="109.20" r="1.05" fill="#0f4c8a"/>
<circle cx="98.80" cy="108.70" r="1.05" fill="#0f4c8a"/>
<circle cx="95.10" cy="109.80" r="1.05" fill="#0f4c8a"/>
<circle cx="110.40" cy="120.80" r="1.05" fill="#0f4c8a"/>
<circle cx="112.10" cy="126.00" r="1.05" fill="#0f4c8a"/>
<circle cx="114.80" cy="117.90" r="1.05" fill="#0f4c8a"/>
<circle cx="115.20" cy="112.70" r="1.05" fill="#0f4c8a"/>
<circle cx="115.90" cy="114.40" r="1.05" fill="#0f4c8a"/>
<circle cx="117.10" cy="110.40" r="1.05" fill="#0f4c8a"/>
<circle cx="117.90" cy="106.90" r="1.05" fill="#0f4c8a"/>
<circle cx="113.30" cy="102.90" r="1.05" fill="#0f4c8a"/>
<circle cx="122.10" cy="117.90" r="1.05" fill="#0f4c8a"/>
<circle cx="126.50" cy="115.00" r="1.05" fill="#0f4c8a"/>
<circle cx="127.10" cy="113.30" r="1.05" fill="#0f4c8a"/>
<circle cx="125.90" cy="108.70" r="1.05" fill="#0f4c8a"/>
<circle cx="127.70" cy="106.30" r="1.05" fill="#0f4c8a"/>
<circle cx="128.80" cy="107.50" r="1.05" fill="#0f4c8a"/>
<circle cx="130.60" cy="105.80" r="1.05" fill="#0f4c8a"/>
<circle cx="132.30" cy="108.10" r="1.05" fill="#0f4c8a"/>
<circle cx="123.10" cy="101.70" r="1.05" fill="#0f4c8a"/>
<circle cx="124.80" cy="102.90" r="1.05" fill="#0f4c8a"/>
<circle cx="127.10" cy="102.30" r="1.05" fill="#0f4c8a"/>
<circle cx="132.90" cy="101.20" r="1.05" fill="#0f4c8a"/>
<circle cx="134.60" cy="100.60" r="1.05" fill="#0f4c8a"/>
<circle cx="138.10" cy="109.20" r="1.05" fill="#0f4c8a"/>
<circle cx="139.20" cy="106.90" r="1.05" fill="#0f4c8a"/>
<circle cx="141.50" cy="108.70" r="1.05" fill="#0f4c8a"/>
<circle cx="137.50" cy="105.20" r="1.05" fill="#0f4c8a"/>
<circle cx="142.70" cy="101.20" r="1.05" fill="#0f4c8a"/>
<circle cx="135.70" cy="102.30" r="1.05" fill="#0f4c8a"/>
<circle cx="145.90" cy="103.20" r="1.05" fill="#0f4c8a"/>
<circle cx="147.30" cy="100.90" r="1.05" fill="#0f4c8a"/>
<circle cx="153.10" cy="105.20" r="1.05" fill="#0f4c8a"/>
<circle cx="151.90" cy="111.90" r="1.05" fill="#0f4c8a"/>
<circle cx="159.10" cy="110.70" r="1.05" fill="#0f4c8a"/>
<circle cx="168.60" cy="101.20" r="1.05" fill="#0f4c8a"/>
<circle cx="171.30" cy="104.00" r="1.05" fill="#0f4c8a"/>
<circle cx="130.90" cy="94.40" r="1.05" fill="#0f4c8a"/>
<circle cx="135.70" cy="93.40" r="1.05" fill="#0f4c8a"/>
<circle cx="137.80" cy="92.30" r="1.05" fill="#0f4c8a"/>
<circle cx="142.10" cy="90.90" r="1.05" fill="#0f4c8a"/>
<circle cx="140.10" cy="94.60" r="1.05" fill="#0f4c8a"/>
<circle cx="126.00" cy="98.10" r="1.05" fill="#0f4c8a"/>
<circle cx="129.40" cy="97.50" r="1.05" fill="#0f4c8a"/>
<circle cx="132.30" cy="96.90" r="1.05" fill="#0f4c8a"/>
<circle cx="133.40" cy="99.20" r="1.05" fill="#0f4c8a"/>
<circle cx="136.30" cy="98.10" r="1.05" fill="#0f4c8a"/>
<circle cx="138.10" cy="99.80" r="1.05" fill="#0f4c8a"/>
<circle cx="140.40" cy="100.90" r="1.05" fill="#0f4c8a"/>
<circle cx="142.70" cy="98.60" r="1.05" fill="#0f4c8a"/>
<circle cx="121.90" cy="101.50" r="1.05" fill="#0f4c8a"/>
<circle cx="124.80" cy="102.90" r="1.05" fill="#0f4c8a"/>
<circle cx="128.80" cy="102.70" r="1.05" fill="#0f4c8a"/>
<circle cx="132.30" cy="101.50" r="1.05" fill="#0f4c8a"/>
<circle cx="134.60" cy="103.30" r="1.05" fill="#0f4c8a"/>
<circle cx="112.70" cy="103.30" r="1.05" fill="#0f4c8a"/>
<circle cx="142.70" cy="103.80" r="1.05" fill="#0f4c8a"/>
<circle cx="173.10" cy="71.40" r="1.05" fill="#0f4c8a"/>
<circle cx="178.10" cy="74.20" r="1.05" fill="#0f4c8a"/>
<circle cx="161.90" cy="76.20" r="1.05" fill="#0f4c8a"/>
<circle cx="165.40" cy="75.00" r="1.05" fill="#0f4c8a"/>
<circle cx="169.20" cy="74.20" r="1.05" fill="#0f4c8a"/>
<circle cx="158.10" cy="79.40" r="1.05" fill="#0f4c8a"/>
<circle cx="155.80" cy="80.80" r="1.05" fill="#0f4c8a"/>
<circle cx="152.30" cy="82.30" r="1.05" fill="#0f4c8a"/>
<circle cx="149.20" cy="82.70" r="1.05" fill="#0f4c8a"/>
<circle cx="147.70" cy="85.40" r="1.05" fill="#0f4c8a"/>
<circle cx="146.20" cy="86.20" r="1.05" fill="#0f4c8a"/>
<circle cx="150.00" cy="86.20" r="1.05" fill="#0f4c8a"/>
<circle cx="218.30" cy="55.60" r="1.05" fill="#0f4c8a"/>
<circle cx="205.90" cy="64.20" r="1.05" fill="#0f4c8a"/>
<circle cx="185.40" cy="66.50" r="1.05" fill="#0f4c8a"/>
<circle cx="187.10" cy="67.70" r="1.05" fill="#0f4c8a"/>
<circle cx="190.60" cy="67.10" r="1.05" fill="#0f4c8a"/>
<circle cx="199.50" cy="66.50" r="1.05" fill="#0f4c8a"/>
<circle cx="196.90" cy="67.90" r="1.05" fill="#0f4c8a"/>
<circle cx="222.90" cy="68.80" r="1.05" fill="#0f4c8a"/>
<circle cx="208.40" cy="68.80" r="1.05" fill="#0f4c8a"/>
<circle cx="205.60" cy="70.60" r="1.05" fill="#0f4c8a"/>
<circle cx="218.30" cy="71.10" r="1.05" fill="#0f4c8a"/>
<circle cx="225.70" cy="73.50" r="1.05" fill="#0f4c8a"/>
<circle cx="224.60" cy="75.80" r="1.05" fill="#0f4c8a"/>
<circle cx="223.40" cy="76.90" r="1.05" fill="#0f4c8a"/>
<circle cx="215.40" cy="73.50" r="1.05" fill="#0f4c8a"/>
<circle cx="209.60" cy="74.00" r="1.05" fill="#0f4c8a"/>
<circle cx="186.00" cy="71.10" r="1.05" fill="#0f4c8a"/>
<circle cx="191.70" cy="71.10" r="1.05" fill="#0f4c8a"/>
<circle cx="181.90" cy="73.50" r="1.05" fill="#0f4c8a"/>
<circle cx="178.50" cy="74.60" r="1.05" fill="#0f4c8a"/>
<circle cx="207.30" cy="85.60" r="1.05" fill="#0f4c8a"/>
<circle cx="209.60" cy="82.70" r="1.05" fill="#0f4c8a"/>
<circle cx="210.80" cy="81.50" r="1.05" fill="#0f4c8a"/>
<circle cx="213.10" cy="78.10" r="1.05" fill="#0f4c8a"/>
<circle cx="215.90" cy="76.90" r="1.05" fill="#0f4c8a"/>
<circle cx="217.70" cy="75.20" r="1.05" fill="#0f4c8a"/>
<circle cx="199.20" cy="87.30" r="1.05" fill="#0f4c8a"/>
<circle cx="195.80" cy="89.60" r="1.05" fill="#0f4c8a"/>
<circle cx="187.70" cy="89.60" r="1.05" fill="#0f4c8a"/>
<circle cx="183.70" cy="95.40" r="1.05" fill="#0f4c8a"/>
<circle cx="181.90" cy="93.60" r="1.05" fill="#0f4c8a"/>
<circle cx="177.30" cy="91.90" r="1.05" fill="#0f4c8a"/>
<circle cx="190.60" cy="94.80" r="1.05" fill="#0f4c8a"/>
<circle cx="203.80" cy="87.30" r="1.05" fill="#0f4c8a"/>
<circle cx="206.10" cy="88.40" r="1.05" fill="#0f4c8a"/>
<circle cx="141.90" cy="91.50" r="1.05" fill="#0f4c8a"/>
<circle cx="146.70" cy="86.70" r="1.05" fill="#0f4c8a"/>
<circle cx="145.80" cy="90.10" r="1.05" fill="#0f4c8a"/>
<circle cx="149.60" cy="89.10" r="1.05" fill="#0f4c8a"/>
<circle cx="151.50" cy="90.10" r="1.05" fill="#0f4c8a"/>
<circle cx="152.50" cy="88.20" r="1.05" fill="#0f4c8a"/>
<circle cx="155.40" cy="92.00" r="1.05" fill="#0f4c8a"/>
<circle cx="156.80" cy="93.00" r="1.05" fill="#0f4c8a"/>
<circle cx="149.10" cy="94.00" r="1.05" fill="#0f4c8a"/>
<circle cx="149.60" cy="95.40" r="1.05" fill="#0f4c8a"/>
<circle cx="147.70" cy="96.80" r="1.05" fill="#0f4c8a"/>
<circle cx="159.20" cy="93.50" r="1.05" fill="#0f4c8a"/>
<circle cx="161.20" cy="95.40" r="1.05" fill="#0f4c8a"/>
<circle cx="162.10" cy="98.30" r="1.05" fill="#0f4c8a"/>
<circle cx="158.30" cy="97.30" r="1.05" fill="#0f4c8a"/>
<circle cx="155.40" cy="97.80" r="1.05" fill="#0f4c8a"/>
<circle cx="141.00" cy="98.30" r="1.05" fill="#0f4c8a"/>
<circle cx="142.90" cy="100.70" r="1.05" fill="#0f4c8a"/>
<circle cx="144.80" cy="103.10" r="1.05" fill="#0f4c8a"/>
<circle cx="141.90" cy="106.40" r="1.05" fill="#0f4c8a"/>
<circle cx="153.50" cy="105.20" r="1.05" fill="#0f4c8a"/>
<circle cx="168.40" cy="100.70" r="1.05" fill="#0f4c8a"/>
<circle cx="171.30" cy="103.80" r="1.05" fill="#0f4c8a"/>
<circle cx="168.40" cy="94.40" r="1.05" fill="#0f4c8a"/>
<circle cx="166.00" cy="92.50" r="1.05" fill="#0f4c8a"/>
<circle cx="164.00" cy="91.50" r="1.05" fill="#0f4c8a"/>
<circle cx="173.70" cy="91.50" r="1.05" fill="#0f4c8a"/>
<circle cx="176.50" cy="92.50" r="1.05" fill="#0f4c8a"/>
<circle cx="179.40" cy="94.40" r="1.05" fill="#0f4c8a"/>
<circle cx="182.30" cy="96.80" r="1.05" fill="#0f4c8a"/>
<circle cx="184.20" cy="95.40" r="1.05" fill="#0f4c8a"/>
<circle cx="188.10" cy="89.60" r="1.05" fill="#0f4c8a"/>
<circle cx="185.20" cy="86.70" r="1.05" fill="#0f4c8a"/>
<circle cx="180.40" cy="88.70" r="1.05" fill="#0f4c8a"/>
<circle cx="218.10" cy="55.80" r="1.05" fill="#0f4c8a"/>
<circle cx="206.00" cy="64.10" r="1.05" fill="#0f4c8a"/>
<circle cx="206.90" cy="87.40" r="1.05" fill="#0f4c8a"/>
</g>
<text x="236.00" y="29.30" font-size="3.9" textLength="15.50" lengthAdjust="spacingAndGlyphs" fill="#555">A-1155463</text>
<text x="209.40" y="46.90" font-size="3.9" textLength="15.60" lengthAdjust="spacingAndGlyphs" fill="#555">A-1331852</text>
<text x="195.00" y="55.70" font-size="3.9" textLength="11.00" lengthAdjust="spacingAndGlyphs" fill="#555">Navitoclax</text>
<text x="227.90" y="58.80" font-size="3.9" textLength="13.80" lengthAdjust="spacingAndGlyphs" fill="#555">Venetoclax</text>
<text x="146.00" y="66.40" font-size="3.9" textLength="18.60" lengthAdjust="spacingAndGlyphs" fill="#555">BMS-754807</text>
<text x="173.50" y="68.80" font-size="3.9" textLength="9.50" lengthAdjust="spacingAndGlyphs" fill="#555">Compound</text>
<text x="132.00" y="74.30" font-size="3.9" textLength="13.00" lengthAdjust="spacingAndGlyphs" fill="#555">AT7867</text>
<text x="145.00" y="77.30" font-size="3.9" textLength="11.50" lengthAdjust="spacingAndGlyphs" fill="#555">Bosutinib</text>
<text x="140.00" y="73.60" font-size="3.9" textLength="7.30" lengthAdjust="spacingAndGlyphs" fill="#555">LY-2</text>
<text x="116.00" y="82.30" font-size="3.9" textLength="14.00" lengthAdjust="spacingAndGlyphs" fill="#555">PF-04691502</text>
<text x="123.00" y="84.90" font-size="3.9" textLength="15.00" lengthAdjust="spacingAndGlyphs" fill="#555">Ponatinib</text>
<text x="125.00" y="89.90" font-size="3.9" textLength="14.00" lengthAdjust="spacingAndGlyphs" fill="#555">Ganetespib</text>
<text x="121.00" y="94.50" font-size="3.9" textLength="9.00" lengthAdjust="spacingAndGlyphs" fill="#555">PF-3758</text>
<text x="97.00" y="95.90" font-size="3.9" textLength="16.00" lengthAdjust="spacingAndGlyphs" fill="#555">CP-466722</text>
<text x="106.00" y="101.30" font-size="3.9" textLength="12.50" lengthAdjust="spacingAndGlyphs" fill="#555">Afuresertib</text>
<text x="75.00" y="108.30" font-size="3.9" textLength="14.00" lengthAdjust="spacingAndGlyphs" fill="#555">Cabazitaxel</text>
<text x="67.00" y="114.30" font-size="3.9" textLength="13.00" lengthAdjust="spacingAndGlyphs" fill="#555">Lonafarnib</text>
<text x="83.00" y="114.30" font-size="3.9" textLength="6.00" lengthAdjust="spacingAndGlyphs" fill="#555">BRD</text>
<text x="100.00" y="106.30" font-size="3.9" textLength="8.00" lengthAdjust="spacingAndGlyphs" fill="#555">Crizotinib</text>
<text x="99.00" y="118.30" font-size="3.9" textLength="8.00" lengthAdjust="spacingAndGlyphs" fill="#555">Fedratinib</text>
<text x="147.70" y="82.10" font-size="3.9" textLength="7.70" lengthAdjust="spacingAndGlyphs" fill="#555">AZD5363</text>
<text x="150.00" y="84.80" font-size="3.9" textLength="5.40" lengthAdjust="spacingAndGlyphs" fill="#555">GDC</text>
<text x="161.50" y="75.10" font-size="3.9" textLength="10.80" lengthAdjust="spacingAndGlyphs" fill="#555">AT13387</text>
<text x="165.40" y="79.80" font-size="3.9" textLength="6.90" lengthAdjust="spacingAndGlyphs" fill="#555">MK-2206</text>
<circle cx="244.60" cy="25.80" r="1.05" fill="#d0102c"/>
<circle cx="216.90" cy="43.30" r="1.05" fill="#d0102c"/>
<circle cx="198.70" cy="52.30" r="1.05" fill="#d0102c"/>
<circle cx="154.40" cy="62.70" r="1.05" fill="#d0102c"/>
<circle cx="182.50" cy="66.00" r="1.05" fill="#d0102c"/>
<circle cx="137.80" cy="71.20" r="1.05" fill="#d0102c"/>
<circle cx="150.40" cy="74.10" r="1.05" fill="#d0102c"/>
<circle cx="166.80" cy="72.50" r="1.05" fill="#d0102c"/>
<circle cx="122.80" cy="79.40" r="1.05" fill="#d0102c"/>
<circle cx="132.90" cy="81.50" r="1.05" fill="#d0102c"/>
<circle cx="153.50" cy="80.20" r="1.05" fill="#d0102c"/>
<circle cx="146.10" cy="83.30" r="1.05" fill="#d0102c"/>
<circle cx="143.40" cy="84.10" r="1.05" fill="#d0102c"/>
<circle cx="132.10" cy="85.60" r="1.05" fill="#d0102c"/>
<circle cx="134.40" cy="87.70" r="1.05" fill="#d0102c"/>
<circle cx="126.50" cy="91.40" r="1.05" fill="#d0102c"/>
<circle cx="106.70" cy="93.40" r="1.05" fill="#d0102c"/>
<circle cx="113.30" cy="95.80" r="1.05" fill="#d0102c"/>
<circle cx="109.80" cy="96.70" r="1.05" fill="#d0102c"/>
<circle cx="110.60" cy="98.00" r="1.05" fill="#d0102c"/>
<circle cx="100.90" cy="103.80" r="1.05" fill="#d0102c"/>
<circle cx="85.60" cy="104.60" r="1.05" fill="#d0102c"/>
<circle cx="93.30" cy="108.30" r="1.05" fill="#d0102c"/>
<circle cx="87.60" cy="111.00" r="1.05" fill="#d0102c"/>
<circle cx="75.10" cy="110.70" r="1.05" fill="#d0102c"/>
<circle cx="134.00" cy="123.30" r="1.05" fill="#d0102c"/>
<circle cx="108.60" cy="135.50" r="1.05" fill="#d0102c"/>
<circle cx="183.10" cy="107.30" r="1.05" fill="#d0102c"/>
<circle cx="213.70" cy="86.80" r="1.05" fill="#d0102c"/>
<circle cx="198.10" cy="93.30" r="1.05" fill="#d0102c"/>
<circle cx="200.60" cy="93.60" r="1.05" fill="#d0102c"/>
<circle cx="192.30" cy="97.70" r="1.05" fill="#d0102c"/>
<circle cx="236.00" cy="56.30" r="1.05" fill="#3cc43c"/>
<circle cx="171.40" cy="76.30" r="1.05" fill="#3cc43c"/>
<circle cx="158.80" cy="82.20" r="1.05" fill="#3cc43c"/>
<circle cx="108.10" cy="115.00" r="1.05" fill="#3cc43c"/>
<text x="191.50" y="29.00" font-size="7.9" textLength="35.80" lengthAdjust="spacingAndGlyphs" fill="#1a1a1a">A-1155463</text>
<text x="176.30" y="39.40" font-size="7.9" textLength="34.60" lengthAdjust="spacingAndGlyphs" fill="#1a1a1a">A-1331852</text>
<text x="155.80" y="51.50" font-size="7.9" textLength="30.70" lengthAdjust="spacingAndGlyphs" fill="#1a1a1a">Navitoclax</text>
<text x="101.90" y="60.20" font-size="7.9" textLength="41.90" lengthAdjust="spacingAndGlyphs" fill="#1a1a1a">BMS-754807</text>
<text x="216.30" y="97.00" font-size="7.9" textLength="32.70" lengthAdjust="spacingAndGlyphs" fill="#1a1a1a">Venetoclax</text>
<line x1="227.90" y1="25.50" x2="242.90" y2="25.20" stroke="#222" stroke-width="1.1"/>
<line x1="199.40" y1="41.10" x2="214.40" y2="42.50" stroke="#222" stroke-width="1.1"/>
<line x1="189.40" y1="48.70" x2="197.10" y2="50.60" stroke="#222" stroke-width="1.1"/>
<line x1="144.60" y1="58.30" x2="152.90" y2="61.50" stroke="#222" stroke-width="1.1"/>
<line x1="43.20" y1="150.00" x2="252.60" y2="49.40" stroke="#222" stroke-width="1.25"/>
<g>
<circle cx="421.93" cy="39.39" r="1.05" fill="#0f4c8a"/>
<circle cx="440.02" cy="58.09" r="1.05" fill="#0f4c8a"/>
<circle cx="440.24" cy="62.00" r="1.05" fill="#0f4c8a"/>
<circle cx="407.42" cy="56.44" r="1.05" fill="#0f4c8a"/>
<circle cx="422.90" cy="65.07" r="1.05" fill="#0f4c8a"/>
<circle cx="409.57" cy="41.82" r="1.05" fill="#0f4c8a"/>
<circle cx="436.98" cy="65.35" r="1.05" fill="#0f4c8a"/>
<circle cx="436.84" cy="44.92" r="1.05" fill="#0f4c8a"/>
<circle cx="443.38" cy="41.79" r="1.05" fill="#0f4c8a"/>
<circle cx="420.60" cy="50.10" r="1.05" fill="#0f4c8a"/>
<circle cx="418.69" cy="61.20" r="1.05" fill="#0f4c8a"/>
<circle cx="423.14" cy="46.19" r="1.05" fill="#0f4c8a"/>
<circle cx="454.13" cy="53.14" r="1.05" fill="#0f4c8a"/>
<circle cx="448.27" cy="57.49" r="1.05" fill="#0f4c8a"/>
<circle cx="405.61" cy="49.69" r="1.05" fill="#0f4c8a"/>
<circle cx="426.70" cy="63.37" r="1.05" fill="#0f4c8a"/>
<circle cx="422.03" cy="60.78" r="1.05" fill="#0f4c8a"/>
<circle cx="431.97" cy="42.23" r="1.05" fill="#0f4c8a"/>
<circle cx="448.84" cy="37.45" r="1.05" fill="#0f4c8a"/>
<circle cx="446.63" cy="40.47" r="1.05" fill="#0f4c8a"/>
<circle cx="429.56" cy="64.28" r="1.05" fill="#0f4c8a"/>
<circle cx="413.59" cy="52.79" r="1.05" fill="#0f4c8a"/>
<circle cx="422.05" cy="65.61" r="1.05" fill="#0f4c8a"/>
<circle cx="417.55" cy="69.87" r="1.05" fill="#0f4c8a"/>
<circle cx="418.75" cy="42.16" r="1.05" fill="#0f4c8a"/>
<circle cx="440.37" cy="52.94" r="1.05" fill="#0f4c8a"/>
<circle cx="409.72" cy="58.19" r="1.05" fill="#0f4c8a"/>
<circle cx="408.21" cy="63.94" r="1.05" fill="#0f4c8a"/>
<circle cx="440.25" cy="63.90" r="1.05" fill="#0f4c8a"/>
<circle cx="436.65" cy="47.51" r="1.05" fill="#0f4c8a"/>
<circle cx="424.87" cy="48.99" r="1.05" fill="#0f4c8a"/>
<circle cx="414.72" cy="44.00" r="1.05" fill="#0f4c8a"/>
<circle cx="450.86" cy="53.05" r="1.05" fill="#0f4c8a"/>
<circle cx="423.72" cy="67.59" r="1.05" fill="#0f4c8a"/>
<circle cx="416.15" cy="51.51" r="1.05" fill="#0f4c8a"/>
<circle cx="431.64" cy="62.67" r="1.05" fill="#0f4c8a"/>
<circle cx="443.16" cy="58.56" r="1.05" fill="#0f4c8a"/>
<circle cx="422.12" cy="46.41" r="1.05" fill="#0f4c8a"/>
<circle cx="412.08" cy="66.04" r="1.05" fill="#0f4c8a"/>
<circle cx="438.43" cy="62.20" r="1.05" fill="#0f4c8a"/>
<circle cx="412.82" cy="50.67" r="1.05" fill="#0f4c8a"/>
<circle cx="444.22" cy="56.01" r="1.05" fill="#0f4c8a"/>
<circle cx="410.55" cy="51.56" r="1.05" fill="#0f4c8a"/>
<circle cx="450.03" cy="43.04" r="1.05" fill="#0f4c8a"/>
<circle cx="413.96" cy="45.46" r="1.05" fill="#0f4c8a"/>
<circle cx="440.56" cy="66.06" r="1.05" fill="#0f4c8a"/>
<circle cx="412.04" cy="39.93" r="1.05" fill="#0f4c8a"/>
<circle cx="416.87" cy="46.41" r="1.05" fill="#0f4c8a"/>
<circle cx="431.15" cy="40.12" r="1.05" fill="#0f4c8a"/>
<circle cx="421.06" cy="41.19" r="1.05" fill="#0f4c8a"/>
<circle cx="409.29" cy="48.60" r="1.05" fill="#0f4c8a"/>
<circle cx="442.13" cy="50.53" r="1.05" fill="#0f4c8a"/>
<circle cx="414.20" cy="58.24" r="1.05" fill="#0f4c8a"/>
<circle cx="409.56" cy="41.84" r="1.05" fill="#0f4c8a"/>
<circle cx="424.19" cy="35.29" r="1.05" fill="#0f4c8a"/>
<circle cx="424.75" cy="64.06" r="1.05" fill="#0f4c8a"/>
<circle cx="440.06" cy="53.02" r="1.05" fill="#0f4c8a"/>
<circle cx="436.88" cy="51.60" r="1.05" fill="#0f4c8a"/>
<circle cx="411.37" cy="56.94" r="1.05" fill="#0f4c8a"/>
<circle cx="425.05" cy="62.16" r="1.05" fill="#0f4c8a"/>
<circle cx="451.22" cy="50.34" r="1.05" fill="#0f4c8a"/>
<circle cx="433.85" cy="62.47" r="1.05" fill="#0f4c8a"/>
<circle cx="425.90" cy="42.69" r="1.05" fill="#0f4c8a"/>
<circle cx="437.89" cy="57.18" r="1.05" fill="#0f4c8a"/>
<circle cx="439.96" cy="52.95" r="1.05" fill="#0f4c8a"/>
<circle cx="443.10" cy="52.47" r="1.05" fill="#0f4c8a"/>
<circle cx="434.66" cy="47.17" r="1.05" fill="#0f4c8a"/>
<circle cx="421.52" cy="51.26" r="1.05" fill="#0f4c8a"/>
<circle cx="412.91" cy="46.36" r="1.05" fill="#0f4c8a"/>
<circle cx="440.30" cy="53.26" r="1.05" fill="#0f4c8a"/>
<circle cx="434.18" cy="42.38" r="1.05" fill="#0f4c8a"/>
<circle cx="425.94" cy="47.20" r="1.05" fill="#0f4c8a"/>
<circle cx="433.86" cy="46.12" r="1.05" fill="#0f4c8a"/>
<circle cx="436.01" cy="58.36" r="1.05" fill="#0f4c8a"/>
<circle cx="416.32" cy="51.88" r="1.05" fill="#0f4c8a"/>
<circle cx="440.13" cy="45.63" r="1.05" fill="#0f4c8a"/>
<circle cx="428.59" cy="59.40" r="1.05" fill="#0f4c8a"/>
<circle cx="410.53" cy="49.27" r="1.05" fill="#0f4c8a"/>
<circle cx="415.43" cy="54.87" r="1.05" fill="#0f4c8a"/>
<circle cx="446.62" cy="48.70" r="1.05" fill="#0f4c8a"/>
<circle cx="413.04" cy="50.00" r="1.05" fill="#0f4c8a"/>
<circle cx="430.64" cy="53.36" r="1.05" fill="#0f4c8a"/>
<circle cx="429.49" cy="51.52" r="1.05" fill="#0f4c8a"/>
<circle cx="442.16" cy="48.76" r="1.05" fill="#0f4c8a"/>
<circle cx="425.41" cy="58.78" r="1.05" fill="#0f4c8a"/>
<circle cx="417.40" cy="52.58" r="1.05" fill="#0f4c8a"/>
<circle cx="424.70" cy="54.42" r="1.05" fill="#0f4c8a"/>
<circle cx="423.22" cy="37.83" r="1.05" fill="#0f4c8a"/>
<circle cx="419.97" cy="45.89" r="1.05" fill="#0f4c8a"/>
<circle cx="409.53" cy="46.34" r="1.05" fill="#0f4c8a"/>
<circle cx="425.82" cy="52.91" r="1.05" fill="#0f4c8a"/>
<circle cx="423.09" cy="42.73" r="1.05" fill="#0f4c8a"/>
<circle cx="417.98" cy="53.92" r="1.05" fill="#0f4c8a"/>
<circle cx="446.60" cy="48.89" r="1.05" fill="#0f4c8a"/>
<circle cx="417.76" cy="55.33" r="1.05" fill="#0f4c8a"/>
<circle cx="424.68" cy="41.48" r="1.05" fill="#0f4c8a"/>
<circle cx="414.17" cy="54.75" r="1.05" fill="#0f4c8a"/>
<circle cx="441.38" cy="51.41" r="1.05" fill="#0f4c8a"/>
<circle cx="427.77" cy="49.71" r="1.05" fill="#0f4c8a"/>
<circle cx="423.13" cy="51.51" r="1.05" fill="#0f4c8a"/>
<circle cx="441.75" cy="55.68" r="1.05" fill="#0f4c8a"/>
<circle cx="427.72" cy="43.42" r="1.05" fill="#0f4c8a"/>
<circle cx="430.93" cy="39.44" r="1.05" fill="#0f4c8a"/>
<circle cx="442.35" cy="44.84" r="1.05" fill="#0f4c8a"/>
<circle cx="443.03" cy="42.78" r="1.05" fill="#0f4c8a"/>
<circle cx="424.05" cy="42.46" r="1.05" fill="#0f4c8a"/>
<circle cx="426.04" cy="40.87" r="1.05" fill="#0f4c8a"/>
<circle cx="420.25" cy="42.26" r="1.05" fill="#0f4c8a"/>
<circle cx="421.07" cy="47.77" r="1.05" fill="#0f4c8a"/>
<circle cx="426.14" cy="51.48" r="1.05" fill="#0f4c8a"/>
<circle cx="435.37" cy="45.02" r="1.05" fill="#0f4c8a"/>
<circle cx="445.23" cy="54.92" r="1.05" fill="#0f4c8a"/>
<circle cx="435.24" cy="42.38" r="1.05" fill="#0f4c8a"/>
<circle cx="418.35" cy="54.74" r="1.05" fill="#0f4c8a"/>
<circle cx="422.86" cy="40.09" r="1.05" fill="#0f4c8a"/>
<circle cx="445.16" cy="55.10" r="1.05" fill="#0f4c8a"/>
<circle cx="433.33" cy="54.86" r="1.05" fill="#0f4c8a"/>
<circle cx="435.74" cy="57.51" r="1.05" fill="#0f4c8a"/>
<circle cx="440.52" cy="56.21" r="1.05" fill="#0f4c8a"/>
<circle cx="416.89" cy="52.78" r="1.05" fill="#0f4c8a"/>
<circle cx="430.23" cy="53.93" r="1.05" fill="#0f4c8a"/>
<circle cx="426.54" cy="57.24" r="1.05" fill="#0f4c8a"/>
<circle cx="431.20" cy="42.72" r="1.05" fill="#0f4c8a"/>
<circle cx="418.37" cy="39.77" r="1.05" fill="#0f4c8a"/>
<circle cx="428.72" cy="37.87" r="1.05" fill="#0f4c8a"/>
<circle cx="427.68" cy="39.89" r="1.05" fill="#0f4c8a"/>
<circle cx="428.65" cy="48.21" r="1.05" fill="#0f4c8a"/>
<circle cx="430.58" cy="56.78" r="1.05" fill="#0f4c8a"/>
<circle cx="427.72" cy="49.72" r="1.05" fill="#0f4c8a"/>
<circle cx="435.61" cy="56.25" r="1.05" fill="#0f4c8a"/>
<circle cx="424.00" cy="46.34" r="1.05" fill="#0f4c8a"/>
<circle cx="434.48" cy="51.45" r="1.05" fill="#0f4c8a"/>
<circle cx="436.30" cy="58.39" r="1.05" fill="#0f4c8a"/>
<circle cx="429.43" cy="47.89" r="1.05" fill="#0f4c8a"/>
<circle cx="437.73" cy="51.19" r="1.05" fill="#0f4c8a"/>
<circle cx="422.54" cy="56.75" r="1.05" fill="#0f4c8a"/>
<circle cx="423.65" cy="47.65" r="1.05" fill="#0f4c8a"/>
<circle cx="430.02" cy="54.61" r="1.05" fill="#0f4c8a"/>
<circle cx="417.43" cy="46.73" r="1.05" fill="#0f4c8a"/>
<circle cx="425.90" cy="49.52" r="1.05" fill="#0f4c8a"/>
<circle cx="442.07" cy="43.38" r="1.05" fill="#0f4c8a"/>
<circle cx="442.11" cy="45.99" r="1.05" fill="#0f4c8a"/>
<circle cx="429.15" cy="42.88" r="1.05" fill="#0f4c8a"/>
<circle cx="429.26" cy="59.41" r="1.05" fill="#0f4c8a"/>
<circle cx="435.18" cy="55.11" r="1.05" fill="#0f4c8a"/>
<circle cx="422.24" cy="43.95" r="1.05" fill="#0f4c8a"/>
<circle cx="420.97" cy="50.28" r="1.05" fill="#0f4c8a"/>
<circle cx="434.39" cy="54.93" r="1.05" fill="#0f4c8a"/>
<circle cx="444.42" cy="49.32" r="1.05" fill="#0f4c8a"/>
<circle cx="410.99" cy="43.56" r="1.05" fill="#0f4c8a"/>
<circle cx="445.86" cy="50.80" r="1.05" fill="#0f4c8a"/>
<circle cx="435.32" cy="55.04" r="1.05" fill="#0f4c8a"/>
<circle cx="445.39" cy="50.88" r="1.05" fill="#0f4c8a"/>
<circle cx="433.67" cy="51.23" r="1.05" fill="#0f4c8a"/>
<circle cx="436.86" cy="50.51" r="1.05" fill="#0f4c8a"/>
<circle cx="436.24" cy="41.49" r="1.05" fill="#0f4c8a"/>
<circle cx="435.68" cy="47.26" r="1.05" fill="#0f4c8a"/>
<circle cx="439.51" cy="38.88" r="1.05" fill="#0f4c8a"/>
<circle cx="439.98" cy="57.98" r="1.05" fill="#0f4c8a"/>
<circle cx="435.23" cy="45.17" r="1.05" fill="#0f4c8a"/>
<circle cx="441.90" cy="54.98" r="1.05" fill="#0f4c8a"/>
<circle cx="431.48" cy="42.56" r="1.05" fill="#0f4c8a"/>
<circle cx="421.08" cy="46.41" r="1.05" fill="#0f4c8a"/>
<circle cx="421.74" cy="46.62" r="1.05" fill="#0f4c8a"/>
<circle cx="434.67" cy="58.45" r="1.05" fill="#0f4c8a"/>
<circle cx="411.18" cy="49.84" r="1.05" fill="#0f4c8a"/>
<circle cx="441.41" cy="50.02" r="1.05" fill="#0f4c8a"/>
<circle cx="445.75" cy="46.99" r="1.05" fill="#0f4c8a"/>
<circle cx="409.57" cy="45.60" r="1.05" fill="#0f4c8a"/>
<circle cx="432.68" cy="58.54" r="1.05" fill="#0f4c8a"/>
<circle cx="448.23" cy="47.67" r="1.05" fill="#0f4c8a"/>
<circle cx="425.50" cy="38.90" r="1.05" fill="#0f4c8a"/>
<circle cx="434.78" cy="41.49" r="1.05" fill="#0f4c8a"/>
<circle cx="437.77" cy="42.19" r="1.05" fill="#0f4c8a"/>
<circle cx="438.34" cy="40.90" r="1.05" fill="#0f4c8a"/>
<circle cx="437.54" cy="56.60" r="1.05" fill="#0f4c8a"/>
<circle cx="438.19" cy="38.48" r="1.05" fill="#0f4c8a"/>
<circle cx="434.14" cy="53.17" r="1.05" fill="#0f4c8a"/>
<circle cx="427.42" cy="58.41" r="1.05" fill="#0f4c8a"/>
<circle cx="441.69" cy="38.37" r="1.05" fill="#0f4c8a"/>
<circle cx="421.44" cy="53.64" r="1.05" fill="#0f4c8a"/>
<circle cx="428.45" cy="37.90" r="1.05" fill="#0f4c8a"/>
<circle cx="423.70" cy="50.01" r="1.05" fill="#0f4c8a"/>
<circle cx="426.55" cy="52.41" r="1.05" fill="#0f4c8a"/>
<circle cx="414.80" cy="55.24" r="1.05" fill="#0f4c8a"/>
<circle cx="423.53" cy="51.65" r="1.05" fill="#0f4c8a"/>
<circle cx="434.19" cy="46.32" r="1.05" fill="#0f4c8a"/>
<circle cx="424.43" cy="54.98" r="1.05" fill="#0f4c8a"/>
<circle cx="431.67" cy="43.37" r="1.05" fill="#0f4c8a"/>
<circle cx="437.13" cy="55.94" r="1.05" fill="#0f4c8a"/>
<circle cx="422.28" cy="50.74" r="1.05" fill="#0f4c8a"/>
<circle cx="433.05" cy="43.75" r="1.05" fill="#0f4c8a"/>
<circle cx="426.14" cy="57.37" r="1.05" fill="#0f4c8a"/>
<circle cx="424.07" cy="52.59" r="1.05" fill="#0f4c8a"/>
<circle cx="433.07" cy="57.56" r="1.05" fill="#0f4c8a"/>
<circle cx="441.30" cy="43.16" r="1.05" fill="#0f4c8a"/>
<circle cx="425.90" cy="50.29" r="1.05" fill="#0f4c8a"/>
<circle cx="441.47" cy="56.88" r="1.05" fill="#0f4c8a"/>
<circle cx="431.88" cy="42.94" r="1.05" fill="#0f4c8a"/>
<circle cx="443.05" cy="55.47" r="1.05" fill="#0f4c8a"/>
<circle cx="436.39" cy="57.97" r="1.05" fill="#0f4c8a"/>
<circle cx="422.87" cy="38.50" r="1.05" fill="#0f4c8a"/>
<circle cx="431.15" cy="55.24" r="1.05" fill="#0f4c8a"/>
<circle cx="417.02" cy="54.13" r="1.05" fill="#0f4c8a"/>
<circle cx="446.27" cy="42.00" r="1.05" fill="#0f4c8a"/>
<circle cx="433.28" cy="52.43" r="1.05" fill="#0f4c8a"/>
<circle cx="427.61" cy="41.35" r="1.05" fill="#0f4c8a"/>
<circle cx="419.19" cy="54.15" r="1.05" fill="#0f4c8a"/>
<circle cx="440.67" cy="47.30" r="1.05" fill="#0f4c8a"/>
<circle cx="439.89" cy="41.97" r="1.05" fill="#0f4c8a"/>
<circle cx="432.18" cy="57.58" r="1.05" fill="#0f4c8a"/>
<circle cx="444.40" cy="48.76" r="1.05" fill="#0f4c8a"/>
<circle cx="428.06" cy="50.35" r="1.05" fill="#0f4c8a"/>
<circle cx="416.57" cy="41.02" r="1.05" fill="#0f4c8a"/>
<circle cx="416.23" cy="52.98" r="1.05" fill="#0f4c8a"/>
<circle cx="423.51" cy="49.76" r="1.05" fill="#0f4c8a"/>
<circle cx="425.10" cy="48.65" r="1.05" fill="#0f4c8a"/>
<circle cx="413.24" cy="51.37" r="1.05" fill="#0f4c8a"/>
<circle cx="440.49" cy="40.17" r="1.05" fill="#0f4c8a"/>
<circle cx="432.89" cy="44.61" r="1.05" fill="#0f4c8a"/>
<circle cx="429.78" cy="36.98" r="1.05" fill="#0f4c8a"/>
<circle cx="443.64" cy="47.93" r="1.05" fill="#0f4c8a"/>
<circle cx="431.69" cy="42.65" r="1.05" fill="#0f4c8a"/>
<circle cx="440.17" cy="46.51" r="1.05" fill="#0f4c8a"/>
<circle cx="417.04" cy="40.75" r="1.05" fill="#0f4c8a"/>
<circle cx="431.30" cy="56.96" r="1.05" fill="#0f4c8a"/>
<circle cx="427.33" cy="58.76" r="1.05" fill="#0f4c8a"/>
<circle cx="432.92" cy="45.84" r="1.05" fill="#0f4c8a"/>
<circle cx="419.29" cy="49.77" r="1.05" fill="#0f4c8a"/>
<circle cx="434.63" cy="58.98" r="1.05" fill="#0f4c8a"/>
<circle cx="435.79" cy="45.74" r="1.05" fill="#0f4c8a"/>
<circle cx="426.93" cy="40.25" r="1.05" fill="#0f4c8a"/>
<circle cx="419.23" cy="44.77" r="1.05" fill="#0f4c8a"/>
<circle cx="440.45" cy="53.18" r="1.05" fill="#0f4c8a"/>
<circle cx="436.08" cy="43.52" r="1.05" fill="#0f4c8a"/>
<circle cx="432.66" cy="54.31" r="1.05" fill="#0f4c8a"/>
<circle cx="413.22" cy="44.11" r="1.05" fill="#0f4c8a"/>
<circle cx="419.28" cy="39.42" r="1.05" fill="#0f4c8a"/>
<circle cx="428.25" cy="40.46" r="1.05" fill="#0f4c8a"/>
<circle cx="418.54" cy="39.86" r="1.05" fill="#0f4c8a"/>
<circle cx="437.69" cy="41.08" r="1.05" fill="#0f4c8a"/>
<circle cx="414.59" cy="47.01" r="1.05" fill="#0f4c8a"/>
<circle cx="442.69" cy="51.27" r="1.05" fill="#0f4c8a"/>
<circle cx="427.09" cy="44.48" r="1.05" fill="#0f4c8a"/>
<circle cx="441.92" cy="47.72" r="1.05" fill="#0f4c8a"/>
<circle cx="434.13" cy="39.86" r="1.05" fill="#0f4c8a"/>
<circle cx="417.87" cy="37.83" r="1.05" fill="#0f4c8a"/>
<circle cx="437.55" cy="49.50" r="1.05" fill="#0f4c8a"/>
<circle cx="419.66" cy="46.18" r="1.05" fill="#0f4c8a"/>
<circle cx="415.23" cy="42.87" r="1.05" fill="#0f4c8a"/>
<circle cx="442.58" cy="44.36" r="1.05" fill="#0f4c8a"/>
<circle cx="415.71" cy="48.04" r="1.05" fill="#0f4c8a"/>
<circle cx="421.72" cy="57.72" r="1.05" fill="#0f4c8a"/>
<circle cx="435.73" cy="41.46" r="1.05" fill="#0f4c8a"/>
<circle cx="428.10" cy="43.23" r="1.05" fill="#0f4c8a"/>
<circle cx="419.31" cy="41.24" r="1.05" fill="#0f4c8a"/>
<circle cx="412.90" cy="43.30" r="1.05" fill="#0f4c8a"/>
<circle cx="438.06" cy="43.40" r="1.05" fill="#0f4c8a"/>
<circle cx="441.28" cy="44.51" r="1.05" fill="#0f4c8a"/>
<circle cx="442.29" cy="48.87" r="1.05" fill="#0f4c8a"/>
<circle cx="416.43" cy="46.73" r="1.05" fill="#0f4c8a"/>
<circle cx="445.48" cy="41.63" r="1.05" fill="#0f4c8a"/>
<circle cx="431.85" cy="39.74" r="1.05" fill="#0f4c8a"/>
<circle cx="416.21" cy="54.61" r="1.05" fill="#0f4c8a"/>
<circle cx="437.46" cy="41.12" r="1.05" fill="#0f4c8a"/>
<circle cx="433.34" cy="48.14" r="1.05" fill="#0f4c8a"/>
<circle cx="419.96" cy="41.34" r="1.05" fill="#0f4c8a"/>
<circle cx="433.50" cy="53.13" r="1.05" fill="#0f4c8a"/>
<circle cx="441.46" cy="50.20" r="1.05" fill="#0f4c8a"/>
<circle cx="417.09" cy="38.04" r="1.05" fill="#0f4c8a"/>
<circle cx="438.31" cy="46.09" r="1.05" fill="#0f4c8a"/>
<circle cx="437.87" cy="37.80" r="1.05" fill="#0f4c8a"/>
<circle cx="441.43" cy="44.38" r="1.05" fill="#0f4c8a"/>
<circle cx="428.72" cy="36.86" r="1.05" fill="#0f4c8a"/>
<circle cx="445.41" cy="47.70" r="1.05" fill="#0f4c8a"/>
<circle cx="443.88" cy="42.76" r="1.05" fill="#0f4c8a"/>
<circle cx="416.44" cy="56.04" r="1.05" fill="#0f4c8a"/>
<circle cx="423.68" cy="40.34" r="1.05" fill="#0f4c8a"/>
<circle cx="423.85" cy="50.48" r="1.05" fill="#0f4c8a"/>
<circle cx="426.83" cy="48.62" r="1.05" fill="#0f4c8a"/>
<circle cx="413.83" cy="53.29" r="1.05" fill="#0f4c8a"/>
<circle cx="441.66" cy="56.84" r="1.05" fill="#0f4c8a"/>
<circle cx="421.84" cy="53.21" r="1.05" fill="#0f4c8a"/>
<circle cx="424.26" cy="54.16" r="1.05" fill="#0f4c8a"/>
<circle cx="447.16" cy="48.13" r="1.05" fill="#0f4c8a"/>
<circle cx="429.53" cy="48.97" r="1.05" fill="#0f4c8a"/>
<circle cx="430.49" cy="36.99" r="1.05" fill="#0f4c8a"/>
<circle cx="416.30" cy="38.91" r="1.05" fill="#0f4c8a"/>
<circle cx="419.02" cy="55.70" r="1.05" fill="#0f4c8a"/>
<circle cx="436.96" cy="41.08" r="1.05" fill="#0f4c8a"/>
<circle cx="432.06" cy="48.79" r="1.05" fill="#0f4c8a"/>
<circle cx="437.11" cy="38.92" r="1.05" fill="#0f4c8a"/>
<circle cx="443.78" cy="53.35" r="1.05" fill="#0f4c8a"/>
<circle cx="428.74" cy="48.27" r="1.05" fill="#0f4c8a"/>
<circle cx="420.18" cy="39.37" r="1.05" fill="#0f4c8a"/>
<circle cx="425.23" cy="39.72" r="1.05" fill="#0f4c8a"/>
<circle cx="432.67" cy="56.74" r="1.05" fill="#0f4c8a"/>
<circle cx="414.89" cy="49.96" r="1.05" fill="#0f4c8a"/>
<circle cx="438.86" cy="40.36" r="1.05" fill="#0f4c8a"/>
<circle cx="424.55" cy="46.38" r="1.05" fill="#0f4c8a"/>
<circle cx="442.59" cy="48.85" r="1.05" fill="#0f4c8a"/>
<circle cx="424.83" cy="58.62" r="1.05" fill="#0f4c8a"/>
<circle cx="440.08" cy="44.46" r="1.05" fill="#0f4c8a"/>
<circle cx="418.62" cy="44.37" r="1.05" fill="#0f4c8a"/>
<circle cx="426.42" cy="59.56" r="1.05" fill="#0f4c8a"/>
<circle cx="441.60" cy="56.42" r="1.05" fill="#0f4c8a"/>
<circle cx="411.14" cy="48.66" r="1.05" fill="#0f4c8a"/>
<circle cx="418.97" cy="46.42" r="1.05" fill="#0f4c8a"/>
<circle cx="434.31" cy="45.06" r="1.05" fill="#0f4c8a"/>
<circle cx="430.23" cy="38.13" r="1.05" fill="#0f4c8a"/>
<circle cx="426.32" cy="48.36" r="1.05" fill="#0f4c8a"/>
<circle cx="446.48" cy="51.38" r="1.05" fill="#0f4c8a"/>
<circle cx="441.37" cy="57.28" r="1.05" fill="#0f4c8a"/>
<circle cx="434.66" cy="42.75" r="1.05" fill="#0f4c8a"/>
<circle cx="436.14" cy="42.93" r="1.05" fill="#0f4c8a"/>
<circle cx="430.69" cy="58.22" r="1.05" fill="#0f4c8a"/>
<circle cx="433.85" cy="42.39" r="1.05" fill="#0f4c8a"/>
<circle cx="429.81" cy="46.69" r="1.05" fill="#0f4c8a"/>
<circle cx="447.03" cy="43.26" r="1.05" fill="#0f4c8a"/>
<circle cx="421.22" cy="51.72" r="1.05" fill="#0f4c8a"/>
<circle cx="413.82" cy="50.47" r="1.05" fill="#0f4c8a"/>
<circle cx="447.24" cy="48.57" r="1.05" fill="#0f4c8a"/>
<circle cx="419.74" cy="47.46" r="1.05" fill="#0f4c8a"/>
<circle cx="430.35" cy="39.99" r="1.05" fill="#0f4c8a"/>
<circle cx="413.96" cy="39.59" r="1.05" fill="#0f4c8a"/>
<circle cx="420.74" cy="46.05" r="1.05" fill="#0f4c8a"/>
<circle cx="420.53" cy="42.22" r="1.05" fill="#0f4c8a"/>
<circle cx="412.51" cy="49.34" r="1.05" fill="#0f4c8a"/>
<circle cx="442.59" cy="50.83" r="1.05" fill="#0f4c8a"/>
<circle cx="431.81" cy="51.78" r="1.05" fill="#0f4c8a"/>
<circle cx="417.05" cy="53.19" r="1.05" fill="#0f4c8a"/>
<circle cx="427.44" cy="49.38" r="1.05" fill="#0f4c8a"/>
<circle cx="433.51" cy="47.52" r="1.05" fill="#0f4c8a"/>
<circle cx="421.42" cy="42.19" r="1.05" fill="#0f4c8a"/>
<circle cx="417.86" cy="48.54" r="1.05" fill="#0f4c8a"/>
<circle cx="424.33" cy="50.26" r="1.05" fill="#0f4c8a"/>
<circle cx="409.48" cy="44.79" r="1.05" fill="#0f4c8a"/>
<circle cx="443.47" cy="42.11" r="1.05" fill="#0f4c8a"/>
<circle cx="431.27" cy="48.05" r="1.05" fill="#0f4c8a"/>
<circle cx="420.82" cy="54.65" r="1.05" fill="#0f4c8a"/>
<circle cx="297.10" cy="140.90" r="1.05" fill="#0f4c8a"/>
<circle cx="315.30" cy="144.80" r="1.05" fill="#0f4c8a"/>
<circle cx="323.90" cy="131.70" r="1.05" fill="#0f4c8a"/>
<circle cx="336.00" cy="133.80" r="1.05" fill="#0f4c8a"/>
<circle cx="322.50" cy="120.20" r="1.05" fill="#0f4c8a"/>
<circle cx="331.80" cy="118.70" r="1.05" fill="#0f4c8a"/>
<circle cx="334.10" cy="117.30" r="1.05" fill="#0f4c8a"/>
<circle cx="336.00" cy="113.30" r="1.05" fill="#0f4c8a"/>
<circle cx="343.50" cy="115.00" r="1.05" fill="#0f4c8a"/>
<circle cx="343.70" cy="117.50" r="1.05" fill="#0f4c8a"/>
<circle cx="344.70" cy="121.90" r="1.05" fill="#0f4c8a"/>
<circle cx="345.20" cy="104.60" r="1.05" fill="#0f4c8a"/>
<circle cx="346.40" cy="104.00" r="1.05" fill="#0f4c8a"/>
<circle cx="347.00" cy="118.50" r="1.05" fill="#0f4c8a"/>
<circle cx="346.20" cy="102.90" r="1.05" fill="#0f4c8a"/>
<circle cx="345.60" cy="120.50" r="1.05" fill="#0f4c8a"/>
<circle cx="346.80" cy="119.20" r="1.05" fill="#0f4c8a"/>
<circle cx="350.50" cy="117.40" r="1.05" fill="#0f4c8a"/>
<circle cx="353.50" cy="123.80" r="1.05" fill="#0f4c8a"/>
<circle cx="356.50" cy="112.00" r="1.05" fill="#0f4c8a"/>
<circle cx="354.70" cy="107.10" r="1.05" fill="#0f4c8a"/>
<circle cx="356.50" cy="104.70" r="1.05" fill="#0f4c8a"/>
<circle cx="363.80" cy="112.00" r="1.05" fill="#0f4c8a"/>
<circle cx="363.80" cy="101.10" r="1.05" fill="#0f4c8a"/>
<circle cx="359.50" cy="98.40" r="1.05" fill="#0f4c8a"/>
<circle cx="360.80" cy="99.60" r="1.05" fill="#0f4c8a"/>
<circle cx="369.80" cy="95.60" r="1.05" fill="#0f4c8a"/>
<circle cx="370.50" cy="97.40" r="1.05" fill="#0f4c8a"/>
<circle cx="372.30" cy="99.80" r="1.05" fill="#0f4c8a"/>
<circle cx="377.10" cy="97.40" r="1.05" fill="#0f4c8a"/>
<circle cx="378.30" cy="95.60" r="1.05" fill="#0f4c8a"/>
<circle cx="380.80" cy="100.50" r="1.05" fill="#0f4c8a"/>
<circle cx="372.90" cy="108.10" r="1.05" fill="#0f4c8a"/>
<circle cx="378.00" cy="106.50" r="1.05" fill="#0f4c8a"/>
<circle cx="390.80" cy="95.60" r="1.05" fill="#0f4c8a"/>
<circle cx="355.90" cy="89.40" r="1.05" fill="#0f4c8a"/>
<circle cx="358.20" cy="91.70" r="1.05" fill="#0f4c8a"/>
<circle cx="359.10" cy="98.60" r="1.05" fill="#0f4c8a"/>
<circle cx="359.70" cy="99.40" r="1.05" fill="#0f4c8a"/>
<circle cx="345.60" cy="104.00" r="1.05" fill="#0f4c8a"/>
<circle cx="361.00" cy="82.70" r="1.05" fill="#0f4c8a"/>
<circle cx="361.50" cy="98.80" r="1.05" fill="#0f4c8a"/>
<circle cx="366.70" cy="88.40" r="1.05" fill="#0f4c8a"/>
<circle cx="367.30" cy="90.20" r="1.05" fill="#0f4c8a"/>
<circle cx="370.80" cy="86.40" r="1.05" fill="#0f4c8a"/>
<circle cx="372.50" cy="83.60" r="1.05" fill="#0f4c8a"/>
<circle cx="376.50" cy="91.90" r="1.05" fill="#0f4c8a"/>
<circle cx="377.10" cy="94.80" r="1.05" fill="#0f4c8a"/>
<circle cx="378.80" cy="95.40" r="1.05" fill="#0f4c8a"/>
<circle cx="370.20" cy="95.40" r="1.05" fill="#0f4c8a"/>
<circle cx="380.60" cy="84.80" r="1.05" fill="#0f4c8a"/>
<circle cx="378.30" cy="72.90" r="1.05" fill="#0f4c8a"/>
<circle cx="380.00" cy="76.30" r="1.05" fill="#0f4c8a"/>
<circle cx="381.10" cy="76.90" r="1.05" fill="#0f4c8a"/>
<circle cx="384.00" cy="67.10" r="1.05" fill="#0f4c8a"/>
<circle cx="386.30" cy="66.50" r="1.05" fill="#0f4c8a"/>
<circle cx="384.60" cy="70.00" r="1.05" fill="#0f4c8a"/>
<circle cx="387.50" cy="69.40" r="1.05" fill="#0f4c8a"/>
<circle cx="388.60" cy="70.00" r="1.05" fill="#0f4c8a"/>
<circle cx="389.80" cy="68.80" r="1.05" fill="#0f4c8a"/>
<circle cx="387.50" cy="71.10" r="1.05" fill="#0f4c8a"/>
<circle cx="386.90" cy="73.50" r="1.05" fill="#0f4c8a"/>
<circle cx="386.90" cy="76.30" r="1.05" fill="#0f4c8a"/>
<circle cx="388.10" cy="81.00" r="1.05" fill="#0f4c8a"/>
<circle cx="391.50" cy="75.80" r="1.05" fill="#0f4c8a"/>
<circle cx="392.10" cy="77.50" r="1.05" fill="#0f4c8a"/>
<circle cx="393.30" cy="76.30" r="1.05" fill="#0f4c8a"/>
<circle cx="393.80" cy="78.10" r="1.05" fill="#0f4c8a"/>
<circle cx="395.00" cy="73.50" r="1.05" fill="#0f4c8a"/>
<circle cx="396.10" cy="72.30" r="1.05" fill="#0f4c8a"/>
<circle cx="395.60" cy="70.60" r="1.05" fill="#0f4c8a"/>
<circle cx="397.30" cy="76.90" r="1.05" fill="#0f4c8a"/>
<circle cx="399.60" cy="75.20" r="1.05" fill="#0f4c8a"/>
<circle cx="401.90" cy="68.80" r="1.05" fill="#0f4c8a"/>
<circle cx="402.50" cy="72.30" r="1.05" fill="#0f4c8a"/>
<circle cx="404.20" cy="76.30" r="1.05" fill="#0f4c8a"/>
<circle cx="404.20" cy="80.40" r="1.05" fill="#0f4c8a"/>
<circle cx="403.30" cy="83.30" r="1.05" fill="#0f4c8a"/>
<circle cx="398.40" cy="85.60" r="1.05" fill="#0f4c8a"/>
<circle cx="397.90" cy="87.30" r="1.05" fill="#0f4c8a"/>
<circle cx="396.70" cy="81.50" r="1.05" fill="#0f4c8a"/>
<circle cx="393.80" cy="82.70" r="1.05" fill="#0f4c8a"/>
<circle cx="391.50" cy="85.00" r="1.05" fill="#0f4c8a"/>
<circle cx="389.20" cy="85.60" r="1.05" fill="#0f4c8a"/>
<circle cx="387.50" cy="88.40" r="1.05" fill="#0f4c8a"/>
<circle cx="385.80" cy="86.10" r="1.05" fill="#0f4c8a"/>
<circle cx="391.50" cy="91.90" r="1.05" fill="#0f4c8a"/>
<circle cx="390.90" cy="95.40" r="1.05" fill="#0f4c8a"/>
<circle cx="400.70" cy="90.80" r="1.05" fill="#0f4c8a"/>
<circle cx="394.40" cy="63.70" r="1.05" fill="#0f4c8a"/>
<circle cx="395.60" cy="64.20" r="1.05" fill="#0f4c8a"/>
<circle cx="396.70" cy="60.80" r="1.05" fill="#0f4c8a"/>
<circle cx="399.60" cy="60.20" r="1.05" fill="#0f4c8a"/>
<circle cx="400.70" cy="55.60" r="1.05" fill="#0f4c8a"/>
<circle cx="398.40" cy="64.20" r="1.05" fill="#0f4c8a"/>
<circle cx="406.50" cy="63.10" r="1.05" fill="#0f4c8a"/>
<circle cx="407.70" cy="64.20" r="1.05" fill="#0f4c8a"/>
<circle cx="407.70" cy="60.20" r="1.05" fill="#0f4c8a"/>
<circle cx="408.20" cy="67.10" r="1.05" fill="#0f4c8a"/>
<circle cx="383.40" cy="74.00" r="1.05" fill="#0f4c8a"/>
<circle cx="405.40" cy="68.80" r="1.05" fill="#0f4c8a"/>
<circle cx="408.80" cy="68.80" r="1.05" fill="#0f4c8a"/>
<circle cx="425.80" cy="70.60" r="1.05" fill="#0f4c8a"/>
<circle cx="428.10" cy="67.70" r="1.05" fill="#0f4c8a"/>
<circle cx="425.20" cy="66.50" r="1.05" fill="#0f4c8a"/>
<circle cx="429.80" cy="66.50" r="1.05" fill="#0f4c8a"/>
<circle cx="431.50" cy="66.00" r="1.05" fill="#0f4c8a"/>
<circle cx="433.80" cy="68.60" r="1.05" fill="#0f4c8a"/>
<circle cx="436.10" cy="64.20" r="1.05" fill="#0f4c8a"/>
<circle cx="435.60" cy="61.90" r="1.05" fill="#0f4c8a"/>
<circle cx="437.30" cy="59.60" r="1.05" fill="#0f4c8a"/>
<circle cx="439.60" cy="57.30" r="1.05" fill="#0f4c8a"/>
<circle cx="443.10" cy="56.70" r="1.05" fill="#0f4c8a"/>
<circle cx="444.80" cy="59.00" r="1.05" fill="#0f4c8a"/>
<circle cx="422.30" cy="75.20" r="1.05" fill="#0f4c8a"/>
<circle cx="423.50" cy="75.80" r="1.05" fill="#0f4c8a"/>
<circle cx="420.00" cy="76.90" r="1.05" fill="#0f4c8a"/>
<circle cx="416.50" cy="78.10" r="1.05" fill="#0f4c8a"/>
<circle cx="415.40" cy="79.20" r="1.05" fill="#0f4c8a"/>
<circle cx="414.20" cy="77.50" r="1.05" fill="#0f4c8a"/>
<circle cx="413.70" cy="81.00" r="1.05" fill="#0f4c8a"/>
<circle cx="415.40" cy="85.20" r="1.05" fill="#0f4c8a"/>
<circle cx="409.60" cy="75.80" r="1.05" fill="#0f4c8a"/>
<circle cx="411.90" cy="73.50" r="1.05" fill="#0f4c8a"/>
<circle cx="407.30" cy="70.00" r="1.05" fill="#0f4c8a"/>
<circle cx="409.60" cy="71.70" r="1.05" fill="#0f4c8a"/>
<circle cx="413.10" cy="70.00" r="1.05" fill="#0f4c8a"/>
<circle cx="416.00" cy="68.80" r="1.05" fill="#0f4c8a"/>
<circle cx="419.40" cy="66.50" r="1.05" fill="#0f4c8a"/>
<circle cx="420.00" cy="69.40" r="1.05" fill="#0f4c8a"/>
<circle cx="405.00" cy="79.80" r="1.05" fill="#0f4c8a"/>
<circle cx="455.60" cy="42.00" r="1.05" fill="#0f4c8a"/>
<circle cx="456.30" cy="49.10" r="1.05" fill="#0f4c8a"/>
<circle cx="455.00" cy="55.60" r="1.05" fill="#0f4c8a"/>
<circle cx="455.60" cy="33.40" r="1.05" fill="#0f4c8a"/>
<circle cx="455.00" cy="40.30" r="1.05" fill="#0f4c8a"/>
<circle cx="466.50" cy="39.50" r="1.05" fill="#0f4c8a"/>
<circle cx="455.60" cy="43.20" r="1.05" fill="#0f4c8a"/>
<circle cx="455.60" cy="49.00" r="1.05" fill="#0f4c8a"/>
<circle cx="457.90" cy="49.20" r="1.05" fill="#0f4c8a"/>
<circle cx="430.20" cy="27.70" r="1.05" fill="#0f4c8a"/>
<circle cx="430.60" cy="30.50" r="1.05" fill="#0f4c8a"/>
<circle cx="431.10" cy="34.90" r="1.05" fill="#0f4c8a"/>
<circle cx="427.70" cy="36.50" r="1.05" fill="#0f4c8a"/>
<circle cx="449.00" cy="29.40" r="1.05" fill="#0f4c8a"/>
<circle cx="455.90" cy="33.80" r="1.05" fill="#0f4c8a"/>
<circle cx="443.60" cy="33.80" r="1.05" fill="#0f4c8a"/>
<circle cx="446.70" cy="36.30" r="1.05" fill="#0f4c8a"/>
<circle cx="413.80" cy="39.80" r="1.05" fill="#0f4c8a"/>
<circle cx="404.60" cy="40.30" r="1.05" fill="#0f4c8a"/>
<circle cx="404.40" cy="40.30" r="1.05" fill="#0f4c8a"/>
<circle cx="404.40" cy="46.10" r="1.05" fill="#0f4c8a"/>
<circle cx="400.40" cy="51.50" r="1.05" fill="#0f4c8a"/>
<circle cx="400.90" cy="55.30" r="1.05" fill="#0f4c8a"/>
<circle cx="401.50" cy="56.10" r="1.05" fill="#0f4c8a"/>
<circle cx="400.10" cy="59.40" r="1.05" fill="#0f4c8a"/>
</g>
<text x="320.40" y="109.30" font-size="3.9" textLength="12.70" lengthAdjust="spacingAndGlyphs" fill="#555">Lonafarnib</text>
<text x="310.60" y="117.00" font-size="3.9" textLength="15.60" lengthAdjust="spacingAndGlyphs" fill="#555">Romidepsin</text>
<text x="369.80" y="104.40" font-size="3.9" textLength="14.60" lengthAdjust="spacingAndGlyphs" fill="#555">Bortezomib</text>
<text x="353.50" y="72.00" font-size="3.9" textLength="15.00" lengthAdjust="spacingAndGlyphs" fill="#555">BI 2536</text>
<text x="355.20" y="81.00" font-size="3.9" textLength="12.10" lengthAdjust="spacingAndGlyphs" fill="#555">Volasertib</text>
<text x="404.20" y="89.30" font-size="3.9" textLength="5.80" lengthAdjust="spacingAndGlyphs" fill="#555">ABT</text>
<text x="481.60" y="45.20" font-size="3.9" textLength="16.30" lengthAdjust="spacingAndGlyphs" fill="#555">A-1331852</text>
<text x="497.10" y="35.30" font-size="3.9" textLength="15.60" lengthAdjust="spacingAndGlyphs" fill="#555">A-1155463</text>
<text x="461.30" y="37.00" font-size="3.9" textLength="15.00" lengthAdjust="spacingAndGlyphs" fill="#555">Venetoclax</text>
<text x="428.80" y="26.00" font-size="3.9" textLength="11.00" lengthAdjust="spacingAndGlyphs" fill="#555">Navitoclax</text>
<text x="400.00" y="35.30" font-size="3.9" textLength="12.70" lengthAdjust="spacingAndGlyphs" fill="#555">AZD</text>
<text x="400.00" y="41.00" font-size="3.9" textLength="11.50" lengthAdjust="spacingAndGlyphs" fill="#555">Obatoclax</text>
<text x="440.40" y="47.40" font-size="3.9" textLength="13.80" lengthAdjust="spacingAndGlyphs" fill="#555">Idasanutlin</text>
<text x="387.10" y="34.00" font-size="3.9" textLength="15.60" lengthAdjust="spacingAndGlyphs" fill="#555">A-770041</text>
<text x="381.90" y="48.30" font-size="3.9" textLength="11.50" lengthAdjust="spacingAndGlyphs" fill="#555">Trametinib</text>
<text x="395.70" y="48.30" font-size="3.9" textLength="3.50" lengthAdjust="spacingAndGlyphs" fill="#555">ARN</text>
<text x="367.50" y="53.60" font-size="3.9" textLength="13.30" lengthAdjust="spacingAndGlyphs" fill="#555">Midostaurin</text>
<text x="377.30" y="57.50" font-size="3.9" textLength="15.00" lengthAdjust="spacingAndGlyphs" fill="#555">Carfilzomib</text>
<text x="395.70" y="37.50" font-size="3.9" textLength="9.30" lengthAdjust="spacingAndGlyphs" fill="#555">GSK</text>
<text x="398.00" y="41.00" font-size="3.9" textLength="7.00" lengthAdjust="spacingAndGlyphs" fill="#555">Bos</text>
<circle cx="328.00" cy="109.50" r="1.05" fill="#d0102c"/>
<circle cx="320.20" cy="116.50" r="1.05" fill="#d0102c"/>
<circle cx="388.90" cy="108.10" r="1.05" fill="#d0102c"/>
<circle cx="361.50" cy="71.70" r="1.05" fill="#d0102c"/>
<circle cx="361.00" cy="81.30" r="1.05" fill="#d0102c"/>
<circle cx="455.70" cy="56.70" r="1.05" fill="#d0102c"/>
<circle cx="455.20" cy="57.90" r="1.05" fill="#d0102c"/>
<circle cx="456.70" cy="59.80" r="1.05" fill="#d0102c"/>
<circle cx="447.10" cy="59.60" r="1.05" fill="#d0102c"/>
<circle cx="448.30" cy="63.10" r="1.05" fill="#d0102c"/>
<circle cx="448.80" cy="64.20" r="1.05" fill="#d0102c"/>
<circle cx="450.60" cy="61.90" r="1.05" fill="#d0102c"/>
<circle cx="451.70" cy="60.80" r="1.05" fill="#d0102c"/>
<circle cx="452.30" cy="62.50" r="1.05" fill="#d0102c"/>
<circle cx="450.60" cy="64.80" r="1.05" fill="#d0102c"/>
<circle cx="459.20" cy="67.70" r="1.05" fill="#d0102c"/>
<circle cx="448.30" cy="68.60" r="1.05" fill="#d0102c"/>
<circle cx="443.10" cy="69.40" r="1.05" fill="#d0102c"/>
<circle cx="440.20" cy="66.00" r="1.05" fill="#d0102c"/>
<circle cx="437.90" cy="68.30" r="1.05" fill="#d0102c"/>
<circle cx="434.80" cy="70.00" r="1.05" fill="#d0102c"/>
<circle cx="429.00" cy="76.70" r="1.05" fill="#d0102c"/>
<circle cx="441.30" cy="76.70" r="1.05" fill="#d0102c"/>
<circle cx="444.20" cy="75.80" r="1.05" fill="#d0102c"/>
<circle cx="445.90" cy="78.10" r="1.05" fill="#d0102c"/>
<circle cx="455.70" cy="81.80" r="1.05" fill="#d0102c"/>
<circle cx="422.90" cy="84.20" r="1.05" fill="#d0102c"/>
<circle cx="462.10" cy="47.10" r="1.05" fill="#d0102c"/>
<circle cx="463.40" cy="46.50" r="1.05" fill="#d0102c"/>
<circle cx="466.00" cy="45.20" r="1.05" fill="#d0102c"/>
<circle cx="470.60" cy="44.90" r="1.05" fill="#d0102c"/>
<circle cx="457.60" cy="49.70" r="1.05" fill="#d0102c"/>
<circle cx="458.90" cy="53.60" r="1.05" fill="#d0102c"/>
<circle cx="456.30" cy="56.20" r="1.05" fill="#d0102c"/>
<circle cx="457.00" cy="60.10" r="1.05" fill="#d0102c"/>
<circle cx="464.70" cy="54.00" r="1.05" fill="#d0102c"/>
<circle cx="471.20" cy="53.60" r="1.05" fill="#d0102c"/>
<circle cx="476.40" cy="52.30" r="1.05" fill="#d0102c"/>
<circle cx="468.00" cy="59.20" r="1.05" fill="#d0102c"/>
<circle cx="459.50" cy="67.50" r="1.05" fill="#d0102c"/>
<circle cx="491.00" cy="41.80" r="1.05" fill="#d0102c"/>
<circle cx="488.70" cy="45.30" r="1.05" fill="#d0102c"/>
<circle cx="504.60" cy="36.10" r="1.05" fill="#d0102c"/>
<circle cx="482.10" cy="36.30" r="1.05" fill="#d0102c"/>
<circle cx="461.90" cy="47.30" r="1.05" fill="#d0102c"/>
<circle cx="458.50" cy="53.60" r="1.05" fill="#d0102c"/>
<circle cx="457.30" cy="50.70" r="1.05" fill="#d0102c"/>
<circle cx="393.70" cy="33.80" r="1.05" fill="#d0102c"/>
<circle cx="397.50" cy="33.80" r="1.05" fill="#d0102c"/>
<circle cx="405.20" cy="36.10" r="1.05" fill="#d0102c"/>
<circle cx="408.30" cy="36.50" r="1.05" fill="#d0102c"/>
<circle cx="405.80" cy="38.60" r="1.05" fill="#d0102c"/>
<circle cx="400.60" cy="47.60" r="1.05" fill="#d0102c"/>
<circle cx="446.70" cy="59.40" r="1.05" fill="#d0102c"/>
<circle cx="458.80" cy="50.10" r="1.05" fill="#d0102c"/>
<circle cx="388.80" cy="48.80" r="1.05" fill="#d0102c"/>
<circle cx="377.90" cy="53.40" r="1.05" fill="#d0102c"/>
<circle cx="392.90" cy="53.00" r="1.05" fill="#d0102c"/>
<circle cx="383.10" cy="56.50" r="1.05" fill="#d0102c"/>
<circle cx="376.30" cy="103.20" r="1.05" fill="#3cc43c"/>
<circle cx="409.50" cy="88.60" r="1.05" fill="#3cc43c"/>
<circle cx="468.60" cy="36.90" r="1.05" fill="#3cc43c"/>
<circle cx="432.10" cy="26.20" r="1.05" fill="#3cc43c"/>
<circle cx="445.90" cy="47.30" r="1.05" fill="#3cc43c"/>
<text x="470.00" y="26.80" font-size="7.9" textLength="35.70" lengthAdjust="spacingAndGlyphs" fill="#1a1a1a">A-1331852</text>
<text x="478.00" y="54.00" font-size="7.9" textLength="35.20" lengthAdjust="spacingAndGlyphs" fill="#1a1a1a">A-1155463</text>
<text x="470.30" y="84.20" font-size="7.9" textLength="32.70" lengthAdjust="spacingAndGlyphs" fill="#1a1a1a">Venetoclax</text>
<text x="375.90" y="28.20" font-size="7.9" textLength="30.40" lengthAdjust="spacingAndGlyphs" fill="#1a1a1a">Navitoclax</text>
<line x1="485.20" y1="28.20" x2="490.20" y2="40.30" stroke="#222" stroke-width="1.1"/>
<line x1="504.60" y1="37.50" x2="499.40" y2="46.70" stroke="#222" stroke-width="1.1"/>
<line x1="468.80" y1="38.60" x2="485.50" y2="74.00" stroke="#222" stroke-width="1.1"/>
<line x1="410.40" y1="27.10" x2="425.00" y2="24.20" stroke="#222" stroke-width="1.1"/>
<line x1="425.00" y1="24.20" x2="430.00" y2="25.20" stroke="#222" stroke-width="1.1"/>
<line x1="310.60" y1="150.00" x2="463.60" y2="19.80" stroke="#222" stroke-width="1.25"/>
<line x1="77.30" y1="278.70" x2="77.30" y2="286.40" stroke="#cc1436" stroke-width="1.0"/>
<line x1="77.30" y1="294.20" x2="77.30" y2="295.50" stroke="#cc1436" stroke-width="1.0"/>
<rect x="74.60" y="286.40" width="5.40" height="7.80" stroke="#cc1436" stroke-width="1.0" fill="none"/>
<line x1="74.60" y1="290.00" x2="80.00" y2="290.00" stroke="#cc1436" stroke-width="1.0"/>
<circle cx="77.30" cy="278.70" r="1.65" fill="#c8102e"/>
<circle cx="77.30" cy="287.00" r="1.65" fill="#c8102e"/>
<circle cx="77.30" cy="290.00" r="1.65" fill="#c8102e"/>
<circle cx="77.30" cy="293.00" r="1.65" fill="#c8102e"/>
<circle cx="77.30" cy="310.80" r="1.65" fill="#c8102e"/>
<line x1="83.70" y1="271.90" x2="83.70" y2="279.90" stroke="#97b67e" stroke-width="1.0"/>
<line x1="83.70" y1="291.00" x2="83.70" y2="307.30" stroke="#97b67e" stroke-width="1.0"/>
<rect x="81.00" y="279.90" width="5.40" height="11.10" stroke="#97b67e" stroke-width="1.0" fill="none"/>
<line x1="81.00" y1="285.80" x2="86.40" y2="285.80" stroke="#97b67e" stroke-width="1.0"/>
<circle cx="83.70" cy="271.90" r="1.65" fill="#8fb07a"/>
<circle cx="83.70" cy="276.00" r="1.65" fill="#8fb07a"/>
<circle cx="83.70" cy="283.00" r="1.65" fill="#8fb07a"/>
<circle cx="83.70" cy="286.00" r="1.65" fill="#8fb07a"/>
<circle cx="83.70" cy="289.00" r="1.65" fill="#8fb07a"/>
<circle cx="83.70" cy="307.30" r="1.65" fill="#8fb07a"/>
<line x1="89.90" y1="242.10" x2="89.90" y2="259.70" stroke="#1eaae8" stroke-width="1.0"/>
<line x1="89.90" y1="274.00" x2="89.90" y2="274.60" stroke="#1eaae8" stroke-width="1.0"/>
<rect x="87.20" y="259.70" width="5.40" height="14.30" stroke="#1eaae8" stroke-width="1.0" fill="none"/>
<line x1="87.20" y1="269.40" x2="92.60" y2="269.40" stroke="#1eaae8" stroke-width="1.0"/>
<circle cx="89.90" cy="242.10" r="1.65" fill="#1aa6e4"/>
<circle cx="89.90" cy="259.00" r="1.65" fill="#1aa6e4"/>
<circle cx="89.90" cy="265.50" r="1.65" fill="#1aa6e4"/>
<circle cx="89.90" cy="272.00" r="1.65" fill="#1aa6e4"/>
<circle cx="89.90" cy="274.60" r="1.65" fill="#1aa6e4"/>
<circle cx="89.90" cy="310.00" r="1.65" fill="#1aa6e4"/>
<line x1="96.30" y1="256.40" x2="96.30" y2="268.80" stroke="#5b2a7e" stroke-width="1.0"/>
<line x1="96.30" y1="283.10" x2="96.30" y2="287.60" stroke="#5b2a7e" stroke-width="1.0"/>
<rect x="93.60" y="268.80" width="5.40" height="14.30" stroke="#5b2a7e" stroke-width="1.0" fill="none"/>
<line x1="93.60" y1="276.60" x2="99.00" y2="276.60" stroke="#5b2a7e" stroke-width="1.0"/>
<circle cx="96.30" cy="256.40" r="1.65" fill="#4b1a66"/>
<circle cx="96.30" cy="268.10" r="1.65" fill="#4b1a66"/>
<circle cx="96.30" cy="271.00" r="1.65" fill="#4b1a66"/>
<circle cx="96.30" cy="281.10" r="1.65" fill="#4b1a66"/>
<circle cx="96.30" cy="308.50" r="1.65" fill="#4b1a66"/>
<line x1="111.50" y1="288.00" x2="111.50" y2="288.00" stroke="#cc1436" stroke-width="1.0"/>
<line x1="111.50" y1="292.90" x2="111.50" y2="292.90" stroke="#cc1436" stroke-width="1.0"/>
<rect x="108.80" y="288.00" width="5.40" height="4.90" stroke="#cc1436" stroke-width="1.0" fill="none"/>
<line x1="108.80" y1="290.50" x2="114.20" y2="290.50" stroke="#cc1436" stroke-width="1.0"/>
<circle cx="111.50" cy="289.00" r="1.65" fill="#c8102e"/>
<circle cx="111.50" cy="292.00" r="1.65" fill="#c8102e"/>
<circle cx="111.50" cy="268.00" r="1.65" fill="#c8102e"/>
<circle cx="111.50" cy="304.60" r="1.65" fill="#c8102e"/>
<line x1="117.90" y1="270.20" x2="117.90" y2="274.50" stroke="#97b67e" stroke-width="1.0"/>
<line x1="117.90" y1="284.80" x2="117.90" y2="297.40" stroke="#97b67e" stroke-width="1.0"/>
<rect x="115.20" y="274.50" width="5.40" height="10.30" stroke="#97b67e" stroke-width="1.0" fill="none"/>
<line x1="115.20" y1="283.70" x2="120.60" y2="283.70" stroke="#97b67e" stroke-width="1.0"/>
<circle cx="117.90" cy="270.20" r="1.65" fill="#8fb07a"/>
<circle cx="117.90" cy="274.50" r="1.65" fill="#8fb07a"/>
<circle cx="117.90" cy="284.20" r="1.65" fill="#8fb07a"/>
<circle cx="117.90" cy="297.40" r="1.65" fill="#8fb07a"/>
<line x1="124.30" y1="269.10" x2="124.30" y2="269.10" stroke="#1eaae8" stroke-width="1.0"/>
<line x1="124.30" y1="273.40" x2="124.30" y2="278.30" stroke="#1eaae8" stroke-width="1.0"/>
<rect x="121.60" y="269.10" width="5.40" height="4.30" stroke="#1eaae8" stroke-width="1.0" fill="none"/>
<line x1="121.60" y1="271.20" x2="127.00" y2="271.20" stroke="#1eaae8" stroke-width="1.0"/>
<circle cx="124.30" cy="271.20" r="1.65" fill="#1aa6e4"/>
<circle cx="124.30" cy="278.30" r="1.65" fill="#1aa6e4"/>
<circle cx="124.30" cy="258.50" r="1.65" fill="#1aa6e4"/>
<line x1="130.80" y1="270.20" x2="130.80" y2="270.20" stroke="#5b2a7e" stroke-width="1.0"/>
<line x1="130.80" y1="276.60" x2="130.80" y2="276.60" stroke="#5b2a7e" stroke-width="1.0"/>
<rect x="128.10" y="270.20" width="5.40" height="6.40" stroke="#5b2a7e" stroke-width="1.0" fill="none"/>
<line x1="128.10" y1="273.90" x2="133.50" y2="273.90" stroke="#5b2a7e" stroke-width="1.0"/>
<circle cx="130.80" cy="270.60" r="1.65" fill="#4b1a66"/>
<circle cx="130.80" cy="276.00" r="1.65" fill="#4b1a66"/>
<circle cx="130.80" cy="259.10" r="1.65" fill="#4b1a66"/>
<circle cx="130.80" cy="291.60" r="1.65" fill="#4b1a66"/>
<line x1="145.60" y1="270.20" x2="145.60" y2="296.50" stroke="#cc1436" stroke-width="1.0"/>
<line x1="145.60" y1="330.40" x2="145.60" y2="338.00" stroke="#cc1436" stroke-width="1.0"/>
<rect x="142.90" y="296.50" width="5.40" height="33.90" stroke="#cc1436" stroke-width="1.0" fill="none"/>
<line x1="142.90" y1="322.90" x2="148.30" y2="322.90" stroke="#cc1436" stroke-width="1.0"/>
<circle cx="145.60" cy="270.20" r="1.65" fill="#c8102e"/>
<circle cx="145.60" cy="322.90" r="1.65" fill="#c8102e"/>
<circle cx="145.60" cy="338.00" r="1.65" fill="#c8102e"/>
<line x1="152.20" y1="248.80" x2="152.20" y2="274.70" stroke="#97b67e" stroke-width="1.0"/>
<line x1="152.20" y1="314.30" x2="152.20" y2="328.50" stroke="#97b67e" stroke-width="1.0"/>
<rect x="149.50" y="274.70" width="5.40" height="39.60" stroke="#97b67e" stroke-width="1.0" fill="none"/>
<line x1="149.50" y1="299.50" x2="154.90" y2="299.50" stroke="#97b67e" stroke-width="1.0"/>
<circle cx="152.20" cy="248.80" r="1.65" fill="#8fb07a"/>
<circle cx="152.20" cy="299.50" r="1.65" fill="#8fb07a"/>
<circle cx="152.20" cy="328.50" r="1.65" fill="#8fb07a"/>
<line x1="158.60" y1="242.30" x2="158.60" y2="276.60" stroke="#1eaae8" stroke-width="1.0"/>
<line x1="158.60" y1="320.90" x2="158.60" y2="331.40" stroke="#1eaae8" stroke-width="1.0"/>
<rect x="155.90" y="276.60" width="5.40" height="44.30" stroke="#1eaae8" stroke-width="1.0" fill="none"/>
<line x1="155.90" y1="311.00" x2="161.30" y2="311.00" stroke="#1eaae8" stroke-width="1.0"/>
<circle cx="158.60" cy="242.30" r="1.65" fill="#1aa6e4"/>
<circle cx="158.60" cy="311.00" r="1.65" fill="#1aa6e4"/>
<circle cx="158.60" cy="331.40" r="1.65" fill="#1aa6e4"/>
<line x1="165.40" y1="243.50" x2="165.40" y2="278.00" stroke="#5b2a7e" stroke-width="1.0"/>
<line x1="165.40" y1="324.00" x2="165.40" y2="337.00" stroke="#5b2a7e" stroke-width="1.0"/>
<rect x="162.70" y="278.00" width="5.40" height="46.00" stroke="#5b2a7e" stroke-width="1.0" fill="none"/>
<line x1="162.70" y1="311.60" x2="168.10" y2="311.60" stroke="#5b2a7e" stroke-width="1.0"/>
<circle cx="165.40" cy="243.50" r="1.65" fill="#4b1a66"/>
<circle cx="165.40" cy="311.60" r="1.65" fill="#4b1a66"/>
<circle cx="165.40" cy="337.00" r="1.65" fill="#4b1a66"/>
<line x1="179.90" y1="269.20" x2="179.90" y2="274.50" stroke="#cc1436" stroke-width="1.0"/>
<line x1="179.90" y1="280.50" x2="179.90" y2="280.50" stroke="#cc1436" stroke-width="1.0"/>
<rect x="177.20" y="274.50" width="5.40" height="6.00" stroke="#cc1436" stroke-width="1.0" fill="none"/>
<line x1="177.20" y1="278.10" x2="182.60" y2="278.10" stroke="#cc1436" stroke-width="1.0"/>
<circle cx="179.90" cy="269.20" r="1.65" fill="#c8102e"/>
<circle cx="179.90" cy="276.00" r="1.65" fill="#c8102e"/>
<circle cx="179.90" cy="278.10" r="1.65" fill="#c8102e"/>
<circle cx="179.90" cy="280.50" r="1.65" fill="#c8102e"/>
<line x1="186.30" y1="217.60" x2="186.30" y2="224.30" stroke="#97b67e" stroke-width="1.0"/>
<line x1="186.30" y1="249.50" x2="186.30" y2="268.60" stroke="#97b67e" stroke-width="1.0"/>
<rect x="183.60" y="224.30" width="5.40" height="25.20" stroke="#97b67e" stroke-width="1.0" fill="none"/>
<line x1="183.60" y1="231.40" x2="189.00" y2="231.40" stroke="#97b67e" stroke-width="1.0"/>
<circle cx="186.30" cy="217.60" r="1.65" fill="#8fb07a"/>
<circle cx="186.30" cy="231.40" r="1.65" fill="#8fb07a"/>
<circle cx="186.30" cy="268.60" r="1.65" fill="#8fb07a"/>
<line x1="192.80" y1="197.40" x2="192.80" y2="210.50" stroke="#1eaae8" stroke-width="1.0"/>
<line x1="192.80" y1="248.30" x2="192.80" y2="273.90" stroke="#1eaae8" stroke-width="1.0"/>
<rect x="190.10" y="210.50" width="5.40" height="37.80" stroke="#1eaae8" stroke-width="1.0" fill="none"/>
<line x1="190.10" y1="224.30" x2="195.50" y2="224.30" stroke="#1eaae8" stroke-width="1.0"/>
<circle cx="192.80" cy="197.40" r="1.65" fill="#1aa6e4"/>
<circle cx="192.80" cy="224.30" r="1.65" fill="#1aa6e4"/>
<circle cx="192.80" cy="273.90" r="1.65" fill="#1aa6e4"/>
<line x1="199.50" y1="237.60" x2="199.50" y2="247.70" stroke="#5b2a7e" stroke-width="1.0"/>
<line x1="199.50" y1="274.50" x2="199.50" y2="290.60" stroke="#5b2a7e" stroke-width="1.0"/>
<rect x="196.80" y="247.70" width="5.40" height="26.80" stroke="#5b2a7e" stroke-width="1.0" fill="none"/>
<line x1="196.80" y1="257.90" x2="202.20" y2="257.90" stroke="#5b2a7e" stroke-width="1.0"/>
<circle cx="199.50" cy="237.60" r="1.65" fill="#4b1a66"/>
<circle cx="199.50" cy="257.90" r="1.65" fill="#4b1a66"/>
<circle cx="199.50" cy="290.60" r="1.65" fill="#4b1a66"/>
<line x1="214.30" y1="294.80" x2="214.30" y2="306.90" stroke="#cc1436" stroke-width="1.0"/>
<line x1="214.30" y1="319.80" x2="214.30" y2="325.70" stroke="#cc1436" stroke-width="1.0"/>
<rect x="211.60" y="306.90" width="5.40" height="12.90" stroke="#cc1436" stroke-width="1.0" fill="none"/>
<line x1="211.60" y1="315.60" x2="217.00" y2="315.60" stroke="#cc1436" stroke-width="1.0"/>
<circle cx="214.30" cy="294.80" r="1.65" fill="#c8102e"/>
<circle cx="214.30" cy="305.20" r="1.65" fill="#c8102e"/>
<circle cx="214.30" cy="309.00" r="1.65" fill="#c8102e"/>
<circle cx="214.30" cy="312.00" r="1.65" fill="#c8102e"/>
<circle cx="214.30" cy="315.60" r="1.65" fill="#c8102e"/>
<circle cx="214.30" cy="318.50" r="1.65" fill="#c8102e"/>
<circle cx="214.30" cy="325.70" r="1.65" fill="#c8102e"/>
<circle cx="214.30" cy="354.60" r="1.65" fill="#c8102e"/>
<line x1="220.80" y1="294.50" x2="220.80" y2="306.10" stroke="#97b67e" stroke-width="1.0"/>
<line x1="220.80" y1="316.80" x2="220.80" y2="317.50" stroke="#97b67e" stroke-width="1.0"/>
<rect x="218.10" y="306.10" width="5.40" height="10.70" stroke="#97b67e" stroke-width="1.0" fill="none"/>
<line x1="218.10" y1="311.00" x2="223.50" y2="311.00" stroke="#97b67e" stroke-width="1.0"/>
<circle cx="220.80" cy="294.50" r="1.65" fill="#8fb07a"/>
<circle cx="220.80" cy="300.70" r="1.65" fill="#8fb07a"/>
<circle cx="220.80" cy="305.50" r="1.65" fill="#8fb07a"/>
<circle cx="220.80" cy="308.50" r="1.65" fill="#8fb07a"/>
<circle cx="220.80" cy="311.50" r="1.65" fill="#8fb07a"/>
<circle cx="220.80" cy="315.00" r="1.65" fill="#8fb07a"/>
<circle cx="220.80" cy="352.90" r="1.65" fill="#8fb07a"/>
<line x1="227.00" y1="309.30" x2="227.00" y2="322.10" stroke="#1eaae8" stroke-width="1.0"/>
<line x1="227.00" y1="337.00" x2="227.00" y2="342.40" stroke="#1eaae8" stroke-width="1.0"/>
<rect x="224.30" y="322.10" width="5.40" height="14.90" stroke="#1eaae8" stroke-width="1.0" fill="none"/>
<line x1="224.30" y1="329.00" x2="229.70" y2="329.00" stroke="#1eaae8" stroke-width="1.0"/>
<circle cx="227.00" cy="309.30" r="1.65" fill="#1aa6e4"/>
<circle cx="227.00" cy="321.20" r="1.65" fill="#1aa6e4"/>
<circle cx="227.00" cy="324.50" r="1.65" fill="#1aa6e4"/>
<circle cx="227.00" cy="334.60" r="1.65" fill="#1aa6e4"/>
<circle cx="227.00" cy="335.80" r="1.65" fill="#1aa6e4"/>
<circle cx="227.00" cy="342.40" r="1.65" fill="#1aa6e4"/>
<circle cx="227.00" cy="375.70" r="1.65" fill="#1aa6e4"/>
<line x1="233.50" y1="292.40" x2="233.50" y2="315.00" stroke="#5b2a7e" stroke-width="1.0"/>
<line x1="233.50" y1="339.40" x2="233.50" y2="342.10" stroke="#5b2a7e" stroke-width="1.0"/>
<rect x="230.80" y="315.00" width="5.40" height="24.40" stroke="#5b2a7e" stroke-width="1.0" fill="none"/>
<line x1="230.80" y1="326.30" x2="236.20" y2="326.30" stroke="#5b2a7e" stroke-width="1.0"/>
<circle cx="233.50" cy="292.40" r="1.65" fill="#4b1a66"/>
<circle cx="233.50" cy="312.00" r="1.65" fill="#4b1a66"/>
<circle cx="233.50" cy="325.70" r="1.65" fill="#4b1a66"/>
<circle cx="233.50" cy="338.50" r="1.65" fill="#4b1a66"/>
<circle cx="233.50" cy="342.10" r="1.65" fill="#4b1a66"/>
<circle cx="233.50" cy="380.20" r="1.65" fill="#4b1a66"/>
<line x1="248.50" y1="282.10" x2="248.50" y2="295.10" stroke="#cc1436" stroke-width="1.0"/>
<line x1="248.50" y1="328.50" x2="248.50" y2="347.60" stroke="#cc1436" stroke-width="1.0"/>
<rect x="245.80" y="295.10" width="5.40" height="33.40" stroke="#cc1436" stroke-width="1.0" fill="none"/>
<line x1="245.80" y1="307.00" x2="251.20" y2="307.00" stroke="#cc1436" stroke-width="1.0"/>
<circle cx="248.50" cy="282.10" r="1.65" fill="#c8102e"/>
<circle cx="248.50" cy="287.90" r="1.65" fill="#c8102e"/>
<circle cx="248.50" cy="294.80" r="1.65" fill="#c8102e"/>
<circle cx="248.50" cy="302.00" r="1.65" fill="#c8102e"/>
<circle cx="248.50" cy="303.50" r="1.65" fill="#c8102e"/>
<circle cx="248.50" cy="305.00" r="1.65" fill="#c8102e"/>
<circle cx="248.50" cy="307.50" r="1.65" fill="#c8102e"/>
<circle cx="248.50" cy="313.00" r="1.65" fill="#c8102e"/>
<circle cx="248.50" cy="317.30" r="1.65" fill="#c8102e"/>
<circle cx="248.50" cy="325.10" r="1.65" fill="#c8102e"/>
<circle cx="248.50" cy="331.10" r="1.65" fill="#c8102e"/>
<circle cx="248.50" cy="338.90" r="1.65" fill="#c8102e"/>
<circle cx="248.50" cy="347.60" r="1.65" fill="#c8102e"/>
<line x1="254.90" y1="267.50" x2="254.90" y2="305.00" stroke="#97b67e" stroke-width="1.0"/>
<line x1="254.90" y1="332.90" x2="254.90" y2="362.60" stroke="#97b67e" stroke-width="1.0"/>
<rect x="252.20" y="305.00" width="5.40" height="27.90" stroke="#97b67e" stroke-width="1.0" fill="none"/>
<line x1="252.20" y1="315.60" x2="257.60" y2="315.60" stroke="#97b67e" stroke-width="1.0"/>
<circle cx="254.90" cy="267.50" r="1.65" fill="#8fb07a"/>
<circle cx="254.90" cy="280.10" r="1.65" fill="#8fb07a"/>
<circle cx="254.90" cy="293.10" r="1.65" fill="#8fb07a"/>
<circle cx="254.90" cy="305.50" r="1.65" fill="#8fb07a"/>
<circle cx="254.90" cy="310.00" r="1.65" fill="#8fb07a"/>
<circle cx="254.90" cy="315.60" r="1.65" fill="#8fb07a"/>
<circle cx="254.90" cy="326.00" r="1.65" fill="#8fb07a"/>
<circle cx="254.90" cy="333.70" r="1.65" fill="#8fb07a"/>
<circle cx="254.90" cy="345.00" r="1.65" fill="#8fb07a"/>
<circle cx="254.90" cy="362.60" r="1.65" fill="#8fb07a"/>
<line x1="261.20" y1="273.00" x2="261.20" y2="283.40" stroke="#1eaae8" stroke-width="1.0"/>
<line x1="261.20" y1="323.40" x2="261.20" y2="323.40" stroke="#1eaae8" stroke-width="1.0"/>
<rect x="258.50" y="283.40" width="5.40" height="40.00" stroke="#1eaae8" stroke-width="1.0" fill="none"/>
<line x1="258.50" y1="297.70" x2="263.90" y2="297.70" stroke="#1eaae8" stroke-width="1.0"/>
<circle cx="261.20" cy="273.00" r="1.65" fill="#1aa6e4"/>
<circle cx="261.20" cy="276.60" r="1.65" fill="#1aa6e4"/>
<circle cx="261.20" cy="279.50" r="1.65" fill="#1aa6e4"/>
<circle cx="261.20" cy="290.10" r="1.65" fill="#1aa6e4"/>
<circle cx="261.20" cy="297.70" r="1.65" fill="#1aa6e4"/>
<circle cx="261.20" cy="302.90" r="1.65" fill="#1aa6e4"/>
<circle cx="261.20" cy="305.50" r="1.65" fill="#1aa6e4"/>
<circle cx="261.20" cy="308.00" r="1.65" fill="#1aa6e4"/>
<circle cx="261.20" cy="313.00" r="1.65" fill="#1aa6e4"/>
<circle cx="261.20" cy="321.60" r="1.65" fill="#1aa6e4"/>
<line x1="267.70" y1="275.30" x2="267.70" y2="304.00" stroke="#5b2a7e" stroke-width="1.0"/>
<line x1="267.70" y1="323.40" x2="267.70" y2="343.30" stroke="#5b2a7e" stroke-width="1.0"/>
<rect x="265.00" y="304.00" width="5.40" height="19.40" stroke="#5b2a7e" stroke-width="1.0" fill="none"/>
<line x1="265.00" y1="310.20" x2="270.40" y2="310.20" stroke="#5b2a7e" stroke-width="1.0"/>
<circle cx="267.70" cy="275.30" r="1.65" fill="#4b1a66"/>
<circle cx="267.70" cy="277.00" r="1.65" fill="#4b1a66"/>
<circle cx="267.70" cy="279.00" r="1.65" fill="#4b1a66"/>
<circle cx="267.70" cy="287.90" r="1.65" fill="#4b1a66"/>
<circle cx="267.70" cy="304.20" r="1.65" fill="#4b1a66"/>
<circle cx="267.70" cy="307.80" r="1.65" fill="#4b1a66"/>
<circle cx="267.70" cy="314.70" r="1.65" fill="#4b1a66"/>
<circle cx="267.70" cy="334.60" r="1.65" fill="#4b1a66"/>
<circle cx="267.70" cy="343.30" r="1.65" fill="#4b1a66"/>
<line x1="282.60" y1="271.80" x2="282.60" y2="274.20" stroke="#cc1436" stroke-width="1.0"/>
<line x1="282.60" y1="278.00" x2="282.60" y2="279.80" stroke="#cc1436" stroke-width="1.0"/>
<rect x="279.90" y="274.20" width="5.40" height="3.80" stroke="#cc1436" stroke-width="1.0" fill="none"/>
<line x1="279.90" y1="276.40" x2="285.30" y2="276.40" stroke="#cc1436" stroke-width="1.0"/>
<circle cx="282.60" cy="271.80" r="1.65" fill="#c8102e"/>
<circle cx="282.60" cy="276.40" r="1.65" fill="#c8102e"/>
<circle cx="282.60" cy="279.80" r="1.65" fill="#c8102e"/>
<line x1="289.30" y1="274.00" x2="289.30" y2="276.40" stroke="#97b67e" stroke-width="1.0"/>
<line x1="289.30" y1="280.70" x2="289.30" y2="282.90" stroke="#97b67e" stroke-width="1.0"/>
<rect x="286.60" y="276.40" width="5.40" height="4.30" stroke="#97b67e" stroke-width="1.0" fill="none"/>
<line x1="286.60" y1="278.60" x2="292.00" y2="278.60" stroke="#97b67e" stroke-width="1.0"/>
<circle cx="289.30" cy="274.00" r="1.65" fill="#8fb07a"/>
<circle cx="289.30" cy="278.60" r="1.65" fill="#8fb07a"/>
<circle cx="289.30" cy="282.90" r="1.65" fill="#8fb07a"/>
<line x1="295.60" y1="273.40" x2="295.60" y2="277.30" stroke="#1eaae8" stroke-width="1.0"/>
<line x1="295.60" y1="285.30" x2="295.60" y2="288.80" stroke="#1eaae8" stroke-width="1.0"/>
<rect x="292.90" y="277.30" width="5.40" height="8.00" stroke="#1eaae8" stroke-width="1.0" fill="none"/>
<line x1="292.90" y1="280.20" x2="298.30" y2="280.20" stroke="#1eaae8" stroke-width="1.0"/>
<circle cx="295.60" cy="273.40" r="1.65" fill="#1aa6e4"/>
<circle cx="295.60" cy="288.80" r="1.65" fill="#1aa6e4"/>
<line x1="302.00" y1="252.40" x2="302.00" y2="254.20" stroke="#5b2a7e" stroke-width="1.0"/>
<line x1="302.00" y1="258.00" x2="302.00" y2="260.70" stroke="#5b2a7e" stroke-width="1.0"/>
<rect x="299.30" y="254.20" width="5.40" height="3.80" stroke="#5b2a7e" stroke-width="1.0" fill="none"/>
<line x1="299.30" y1="255.80" x2="304.70" y2="255.80" stroke="#5b2a7e" stroke-width="1.0"/>
<circle cx="302.00" cy="252.40" r="1.65" fill="#4b1a66"/>
<circle cx="302.00" cy="260.70" r="1.65" fill="#4b1a66"/>
<line x1="316.90" y1="272.70" x2="316.90" y2="291.40" stroke="#cc1436" stroke-width="1.0"/>
<line x1="316.90" y1="334.10" x2="316.90" y2="379.50" stroke="#cc1436" stroke-width="1.0"/>
<rect x="314.20" y="291.40" width="5.40" height="42.70" stroke="#cc1436" stroke-width="1.0" fill="none"/>
<line x1="314.20" y1="308.80" x2="319.60" y2="308.80" stroke="#cc1436" stroke-width="1.0"/>
<circle cx="316.90" cy="272.70" r="1.65" fill="#c8102e"/>
<circle cx="316.90" cy="274.30" r="1.65" fill="#c8102e"/>
<circle cx="316.90" cy="276.20" r="1.65" fill="#c8102e"/>
<circle cx="316.90" cy="278.20" r="1.65" fill="#c8102e"/>
<circle cx="316.90" cy="283.40" r="1.65" fill="#c8102e"/>
<circle cx="316.90" cy="285.30" r="1.65" fill="#c8102e"/>
<circle cx="316.90" cy="291.20" r="1.65" fill="#c8102e"/>
<circle cx="316.90" cy="303.50" r="1.65" fill="#c8102e"/>
<circle cx="316.90" cy="307.40" r="1.65" fill="#c8102e"/>
<circle cx="316.90" cy="310.00" r="1.65" fill="#c8102e"/>
<circle cx="316.90" cy="314.50" r="1.65" fill="#c8102e"/>
<circle cx="316.90" cy="317.50" r="1.65" fill="#c8102e"/>
<circle cx="316.90" cy="323.40" r="1.65" fill="#c8102e"/>
<circle cx="316.90" cy="333.10" r="1.65" fill="#c8102e"/>
<circle cx="316.90" cy="335.00" r="1.65" fill="#c8102e"/>
<circle cx="316.90" cy="340.90" r="1.65" fill="#c8102e"/>
<circle cx="316.90" cy="351.70" r="1.65" fill="#c8102e"/>
<circle cx="316.90" cy="379.50" r="1.65" fill="#c8102e"/>
<line x1="323.60" y1="266.80" x2="323.60" y2="294.80" stroke="#97b67e" stroke-width="1.0"/>
<line x1="323.60" y1="338.00" x2="323.60" y2="379.90" stroke="#97b67e" stroke-width="1.0"/>
<rect x="320.90" y="294.80" width="5.40" height="43.20" stroke="#97b67e" stroke-width="1.0" fill="none"/>
<line x1="320.90" y1="310.50" x2="326.30" y2="310.50" stroke="#97b67e" stroke-width="1.0"/>
<circle cx="323.60" cy="266.80" r="1.65" fill="#8fb07a"/>
<circle cx="323.60" cy="283.40" r="1.65" fill="#8fb07a"/>
<circle cx="323.60" cy="290.50" r="1.65" fill="#8fb07a"/>
<circle cx="323.60" cy="291.80" r="1.65" fill="#8fb07a"/>
<circle cx="323.60" cy="295.00" r="1.65" fill="#8fb07a"/>
<circle cx="323.60" cy="303.50" r="1.65" fill="#8fb07a"/>
<circle cx="323.60" cy="310.00" r="1.65" fill="#8fb07a"/>
<circle cx="323.60" cy="313.60" r="1.65" fill="#8fb07a"/>
<circle cx="323.60" cy="317.50" r="1.65" fill="#8fb07a"/>
<circle cx="323.60" cy="321.40" r="1.65" fill="#8fb07a"/>
<circle cx="323.60" cy="325.30" r="1.65" fill="#8fb07a"/>
<circle cx="323.60" cy="339.00" r="1.65" fill="#8fb07a"/>
<circle cx="323.60" cy="342.00" r="1.65" fill="#8fb07a"/>
<circle cx="323.60" cy="344.80" r="1.65" fill="#8fb07a"/>
<circle cx="323.60" cy="376.40" r="1.65" fill="#8fb07a"/>
<circle cx="323.60" cy="379.90" r="1.65" fill="#8fb07a"/>
<line x1="330.10" y1="278.20" x2="330.10" y2="296.60" stroke="#1eaae8" stroke-width="1.0"/>
<line x1="330.10" y1="328.80" x2="330.10" y2="362.80" stroke="#1eaae8" stroke-width="1.0"/>
<rect x="327.40" y="296.60" width="5.40" height="32.20" stroke="#1eaae8" stroke-width="1.0" fill="none"/>
<line x1="327.40" y1="312.00" x2="332.80" y2="312.00" stroke="#1eaae8" stroke-width="1.0"/>
<circle cx="330.10" cy="278.20" r="1.65" fill="#1aa6e4"/>
<circle cx="330.10" cy="279.50" r="1.65" fill="#1aa6e4"/>
<circle cx="330.10" cy="281.00" r="1.65" fill="#1aa6e4"/>
<circle cx="330.10" cy="283.00" r="1.65" fill="#1aa6e4"/>
<circle cx="330.10" cy="284.80" r="1.65" fill="#1aa6e4"/>
<circle cx="330.10" cy="287.00" r="1.65" fill="#1aa6e4"/>
<circle cx="330.10" cy="289.50" r="1.65" fill="#1aa6e4"/>
<circle cx="330.10" cy="291.00" r="1.65" fill="#1aa6e4"/>
<circle cx="330.10" cy="297.30" r="1.65" fill="#1aa6e4"/>
<circle cx="330.10" cy="300.00" r="1.65" fill="#1aa6e4"/>
<circle cx="330.10" cy="303.00" r="1.65" fill="#1aa6e4"/>
<circle cx="330.10" cy="306.00" r="1.65" fill="#1aa6e4"/>
<circle cx="330.10" cy="309.00" r="1.65" fill="#1aa6e4"/>
<circle cx="330.10" cy="311.00" r="1.65" fill="#1aa6e4"/>
<circle cx="330.10" cy="313.60" r="1.65" fill="#1aa6e4"/>
<circle cx="330.10" cy="316.00" r="1.65" fill="#1aa6e4"/>
<circle cx="330.10" cy="319.00" r="1.65" fill="#1aa6e4"/>
<circle cx="330.10" cy="322.00" r="1.65" fill="#1aa6e4"/>
<circle cx="330.10" cy="325.00" r="1.65" fill="#1aa6e4"/>
<circle cx="330.10" cy="327.50" r="1.65" fill="#1aa6e4"/>
<circle cx="330.10" cy="334.10" r="1.65" fill="#1aa6e4"/>
<circle cx="330.10" cy="340.00" r="1.65" fill="#1aa6e4"/>
<circle cx="330.10" cy="346.80" r="1.65" fill="#1aa6e4"/>
<circle cx="330.10" cy="356.50" r="1.65" fill="#1aa6e4"/>
<circle cx="330.10" cy="362.80" r="1.65" fill="#1aa6e4"/>
<line x1="336.30" y1="269.40" x2="336.30" y2="294.00" stroke="#5b2a7e" stroke-width="1.0"/>
<line x1="336.30" y1="333.10" x2="336.30" y2="376.00" stroke="#5b2a7e" stroke-width="1.0"/>
<rect x="333.60" y="294.00" width="5.40" height="39.10" stroke="#5b2a7e" stroke-width="1.0" fill="none"/>
<line x1="333.60" y1="317.50" x2="339.00" y2="317.50" stroke="#5b2a7e" stroke-width="1.0"/>
<circle cx="336.30" cy="269.40" r="1.65" fill="#4b1a66"/>
<circle cx="336.30" cy="282.00" r="1.65" fill="#4b1a66"/>
<circle cx="336.30" cy="286.00" r="1.65" fill="#4b1a66"/>
<circle cx="336.30" cy="288.00" r="1.65" fill="#4b1a66"/>
<circle cx="336.30" cy="291.20" r="1.65" fill="#4b1a66"/>
<circle cx="336.30" cy="300.30" r="1.65" fill="#4b1a66"/>
<circle cx="336.30" cy="304.80" r="1.65" fill="#4b1a66"/>
<circle cx="336.30" cy="314.60" r="1.65" fill="#4b1a66"/>
<circle cx="336.30" cy="317.50" r="1.65" fill="#4b1a66"/>
<circle cx="336.30" cy="331.20" r="1.65" fill="#4b1a66"/>
<circle cx="336.30" cy="341.00" r="1.65" fill="#4b1a66"/>
<circle cx="336.30" cy="346.80" r="1.65" fill="#4b1a66"/>
<circle cx="336.30" cy="366.30" r="1.65" fill="#4b1a66"/>
<circle cx="336.30" cy="376.00" r="1.65" fill="#4b1a66"/>
<line x1="351.20" y1="295.50" x2="351.20" y2="297.50" stroke="#cc1436" stroke-width="1.0"/>
<line x1="351.20" y1="305.40" x2="351.20" y2="311.50" stroke="#cc1436" stroke-width="1.0"/>
<rect x="348.50" y="297.50" width="5.40" height="7.90" stroke="#cc1436" stroke-width="1.0" fill="none"/>
<line x1="348.50" y1="300.20" x2="353.90" y2="300.20" stroke="#cc1436" stroke-width="1.0"/>
<circle cx="351.20" cy="295.50" r="1.65" fill="#c8102e"/>
<circle cx="351.20" cy="298.60" r="1.65" fill="#c8102e"/>
<circle cx="351.20" cy="311.50" r="1.65" fill="#c8102e"/>
<line x1="357.50" y1="285.60" x2="357.50" y2="290.50" stroke="#97b67e" stroke-width="1.0"/>
<line x1="357.50" y1="299.00" x2="357.50" y2="302.50" stroke="#97b67e" stroke-width="1.0"/>
<rect x="354.80" y="290.50" width="5.40" height="8.50" stroke="#97b67e" stroke-width="1.0" fill="none"/>
<line x1="354.80" y1="296.00" x2="360.20" y2="296.00" stroke="#97b67e" stroke-width="1.0"/>
<circle cx="357.50" cy="285.60" r="1.65" fill="#8fb07a"/>
<circle cx="357.50" cy="296.00" r="1.65" fill="#8fb07a"/>
<circle cx="357.50" cy="302.50" r="1.65" fill="#8fb07a"/>
<line x1="363.90" y1="253.00" x2="363.90" y2="255.30" stroke="#1eaae8" stroke-width="1.0"/>
<line x1="363.90" y1="259.70" x2="363.90" y2="260.80" stroke="#1eaae8" stroke-width="1.0"/>
<rect x="361.20" y="255.30" width="5.40" height="4.40" stroke="#1eaae8" stroke-width="1.0" fill="none"/>
<line x1="361.20" y1="257.50" x2="366.60" y2="257.50" stroke="#1eaae8" stroke-width="1.0"/>
<circle cx="363.90" cy="253.00" r="1.65" fill="#1aa6e4"/>
<circle cx="363.90" cy="257.50" r="1.65" fill="#1aa6e4"/>
<circle cx="363.90" cy="260.80" r="1.65" fill="#1aa6e4"/>
<line x1="370.50" y1="278.70" x2="370.50" y2="280.20" stroke="#5b2a7e" stroke-width="1.0"/>
<line x1="370.50" y1="291.60" x2="370.50" y2="302.90" stroke="#5b2a7e" stroke-width="1.0"/>
<rect x="367.80" y="280.20" width="5.40" height="11.40" stroke="#5b2a7e" stroke-width="1.0" fill="none"/>
<line x1="367.80" y1="281.70" x2="373.20" y2="281.70" stroke="#5b2a7e" stroke-width="1.0"/>
<circle cx="370.50" cy="278.70" r="1.65" fill="#4b1a66"/>
<circle cx="370.50" cy="280.50" r="1.65" fill="#4b1a66"/>
<circle cx="370.50" cy="302.90" r="1.65" fill="#4b1a66"/>
<line x1="385.50" y1="269.70" x2="385.50" y2="309.20" stroke="#cc1436" stroke-width="1.0"/>
<line x1="385.50" y1="355.60" x2="385.50" y2="376.00" stroke="#cc1436" stroke-width="1.0"/>
<rect x="382.80" y="309.20" width="5.40" height="46.40" stroke="#cc1436" stroke-width="1.0" fill="none"/>
<line x1="382.80" y1="346.90" x2="388.20" y2="346.90" stroke="#cc1436" stroke-width="1.0"/>
<circle cx="385.50" cy="269.70" r="1.65" fill="#c8102e"/>
<circle cx="385.50" cy="281.40" r="1.65" fill="#c8102e"/>
<circle cx="385.50" cy="305.70" r="1.65" fill="#c8102e"/>
<circle cx="385.50" cy="317.80" r="1.65" fill="#c8102e"/>
<circle cx="385.50" cy="342.20" r="1.65" fill="#c8102e"/>
<circle cx="385.50" cy="352.00" r="1.65" fill="#c8102e"/>
<circle cx="385.50" cy="354.00" r="1.65" fill="#c8102e"/>
<circle cx="385.50" cy="356.00" r="1.65" fill="#c8102e"/>
<circle cx="385.50" cy="361.70" r="1.65" fill="#c8102e"/>
<circle cx="385.50" cy="376.00" r="1.65" fill="#c8102e"/>
<line x1="391.90" y1="297.70" x2="391.90" y2="334.00" stroke="#97b67e" stroke-width="1.0"/>
<line x1="391.90" y1="364.80" x2="391.90" y2="396.40" stroke="#97b67e" stroke-width="1.0"/>
<rect x="389.20" y="334.00" width="5.40" height="30.80" stroke="#97b67e" stroke-width="1.0" fill="none"/>
<line x1="389.20" y1="351.00" x2="394.60" y2="351.00" stroke="#97b67e" stroke-width="1.0"/>
<circle cx="391.90" cy="297.70" r="1.65" fill="#8fb07a"/>
<circle cx="391.90" cy="301.30" r="1.65" fill="#8fb07a"/>
<circle cx="391.90" cy="330.90" r="1.65" fill="#8fb07a"/>
<circle cx="391.90" cy="341.00" r="1.65" fill="#8fb07a"/>
<circle cx="391.90" cy="347.00" r="1.65" fill="#8fb07a"/>
<circle cx="391.90" cy="355.50" r="1.65" fill="#8fb07a"/>
<circle cx="391.90" cy="361.70" r="1.65" fill="#8fb07a"/>
<circle cx="391.90" cy="374.30" r="1.65" fill="#8fb07a"/>
<circle cx="391.90" cy="396.40" r="1.65" fill="#8fb07a"/>
<line x1="398.40" y1="285.30" x2="398.40" y2="309.90" stroke="#1eaae8" stroke-width="1.0"/>
<line x1="398.40" y1="347.70" x2="398.40" y2="364.20" stroke="#1eaae8" stroke-width="1.0"/>
<rect x="395.70" y="309.90" width="5.40" height="37.80" stroke="#1eaae8" stroke-width="1.0" fill="none"/>
<line x1="395.70" y1="320.60" x2="401.10" y2="320.60" stroke="#1eaae8" stroke-width="1.0"/>
<circle cx="398.40" cy="285.30" r="1.65" fill="#1aa6e4"/>
<circle cx="398.40" cy="291.20" r="1.65" fill="#1aa6e4"/>
<circle cx="398.40" cy="308.10" r="1.65" fill="#1aa6e4"/>
<circle cx="398.40" cy="313.00" r="1.65" fill="#1aa6e4"/>
<circle cx="398.40" cy="317.50" r="1.65" fill="#1aa6e4"/>
<circle cx="398.40" cy="320.60" r="1.65" fill="#1aa6e4"/>
<circle cx="398.40" cy="345.30" r="1.65" fill="#1aa6e4"/>
<circle cx="398.40" cy="351.40" r="1.65" fill="#1aa6e4"/>
<circle cx="398.40" cy="364.20" r="1.65" fill="#1aa6e4"/>
<line x1="404.70" y1="279.70" x2="404.70" y2="319.50" stroke="#5b2a7e" stroke-width="1.0"/>
<line x1="404.70" y1="355.60" x2="404.70" y2="388.60" stroke="#5b2a7e" stroke-width="1.0"/>
<rect x="402.00" y="319.50" width="5.40" height="36.10" stroke="#5b2a7e" stroke-width="1.0" fill="none"/>
<line x1="402.00" y1="344.90" x2="407.40" y2="344.90" stroke="#5b2a7e" stroke-width="1.0"/>
<circle cx="404.70" cy="279.70" r="1.65" fill="#4b1a66"/>
<circle cx="404.70" cy="286.00" r="1.65" fill="#4b1a66"/>
<circle cx="404.70" cy="311.30" r="1.65" fill="#4b1a66"/>
<circle cx="404.70" cy="342.20" r="1.65" fill="#4b1a66"/>
<circle cx="404.70" cy="347.30" r="1.65" fill="#4b1a66"/>
<circle cx="404.70" cy="354.50" r="1.65" fill="#4b1a66"/>
<circle cx="404.70" cy="362.80" r="1.65" fill="#4b1a66"/>
<circle cx="404.70" cy="388.60" r="1.65" fill="#4b1a66"/>
<line x1="416.30" y1="259.80" x2="422.70" y2="259.80" stroke="#cc1436" stroke-width="1.0"/>
<circle cx="419.50" cy="259.80" r="1.65" fill="#c8102e"/>
<line x1="422.80" y1="280.20" x2="429.20" y2="280.20" stroke="#97b67e" stroke-width="1.0"/>
<circle cx="426.00" cy="280.20" r="1.65" fill="#8fb07a"/>
<line x1="428.90" y1="236.40" x2="435.30" y2="236.40" stroke="#1eaae8" stroke-width="1.0"/>
<circle cx="432.10" cy="236.40" r="1.65" fill="#1aa6e4"/>
<line x1="435.80" y1="271.10" x2="442.20" y2="271.10" stroke="#5b2a7e" stroke-width="1.0"/>
<circle cx="439.00" cy="271.10" r="1.65" fill="#4b1a66"/>
<line x1="453.90" y1="298.70" x2="453.90" y2="300.00" stroke="#cc1436" stroke-width="1.0"/>
<line x1="453.90" y1="304.50" x2="453.90" y2="305.20" stroke="#cc1436" stroke-width="1.0"/>
<rect x="451.20" y="300.00" width="5.40" height="4.50" stroke="#cc1436" stroke-width="1.0" fill="none"/>
<line x1="451.20" y1="302.30" x2="456.60" y2="302.30" stroke="#cc1436" stroke-width="1.0"/>
<circle cx="453.90" cy="298.70" r="1.65" fill="#c8102e"/>
<circle cx="453.90" cy="302.00" r="1.65" fill="#c8102e"/>
<circle cx="453.90" cy="305.20" r="1.65" fill="#c8102e"/>
<line x1="457.10" y1="297.40" x2="463.50" y2="297.40" stroke="#97b67e" stroke-width="1.0"/>
<circle cx="460.30" cy="297.40" r="1.65" fill="#8fb07a"/>
<line x1="466.60" y1="257.10" x2="466.60" y2="257.80" stroke="#1eaae8" stroke-width="1.0"/>
<line x1="466.60" y1="262.30" x2="466.60" y2="263.00" stroke="#1eaae8" stroke-width="1.0"/>
<rect x="463.90" y="257.80" width="5.40" height="4.50" stroke="#1eaae8" stroke-width="1.0" fill="none"/>
<line x1="463.90" y1="260.00" x2="469.30" y2="260.00" stroke="#1eaae8" stroke-width="1.0"/>
<circle cx="466.60" cy="257.10" r="1.65" fill="#1aa6e4"/>
<circle cx="466.60" cy="263.00" r="1.65" fill="#1aa6e4"/>
<line x1="473.30" y1="262.30" x2="473.30" y2="267.50" stroke="#5b2a7e" stroke-width="1.0"/>
<line x1="473.30" y1="277.30" x2="473.30" y2="283.10" stroke="#5b2a7e" stroke-width="1.0"/>
<rect x="470.60" y="267.50" width="5.40" height="9.80" stroke="#5b2a7e" stroke-width="1.0" fill="none"/>
<line x1="470.60" y1="272.70" x2="476.00" y2="272.70" stroke="#5b2a7e" stroke-width="1.0"/>
<circle cx="473.30" cy="262.30" r="1.65" fill="#4b1a66"/>
<circle cx="473.30" cy="283.10" r="1.65" fill="#4b1a66"/>
<rect x="0" y="0" width="520" height="462" fill="none" stroke="#000" stroke-width="2.6"/>
</svg>
</body></html>
